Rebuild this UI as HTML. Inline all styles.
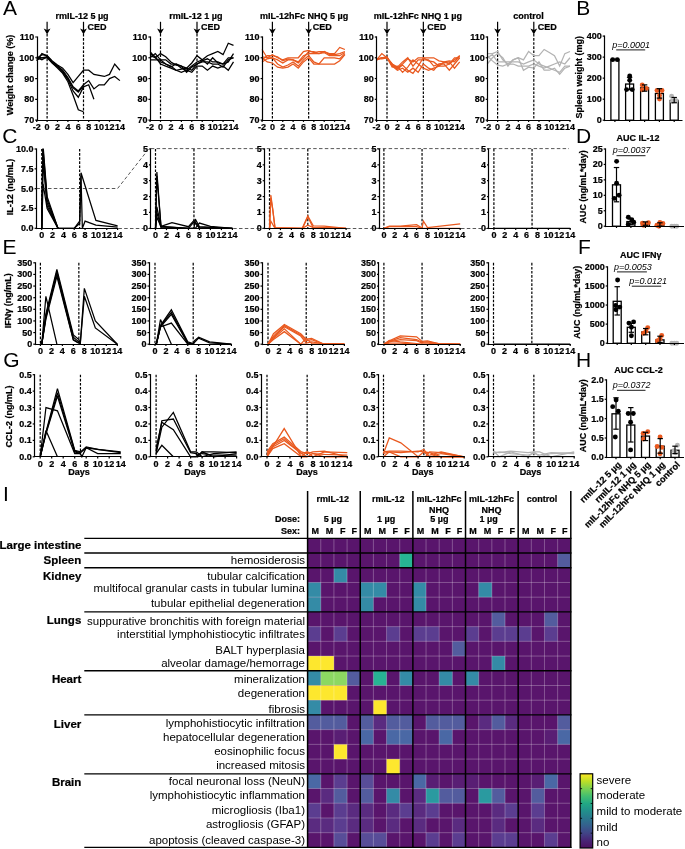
<!DOCTYPE html>
<html lang="en"><head><meta charset="utf-8"><title>Figure</title>
<style>
html,body{margin:0;padding:0;background:#fff}
body{width:685px;height:849px;overflow:hidden}
svg{display:block;will-change:transform;font-family:"Liberation Sans",Arial,Helvetica,sans-serif}
svg text{fill:#000}
svg text[font-weight="bold"]{stroke:#000;stroke-width:0.22px}
</style></head><body>
<svg width="685" height="849" viewBox="0 0 685 849">
<rect width="685" height="849" fill="#fff"/>
<text x="2.9" y="14.6" font-size="21" font-weight="normal" text-anchor="start">A</text>
<text x="576.3" y="14.6" font-size="21" font-weight="normal" text-anchor="start">B</text>
<text x="2.2" y="143.4" font-size="21" font-weight="normal" text-anchor="start">C</text>
<text x="575.9" y="142.6" font-size="21" font-weight="normal" text-anchor="start">D</text>
<text x="2.4" y="254.1" font-size="21" font-weight="normal" text-anchor="start">E</text>
<text x="578" y="253.9" font-size="21" font-weight="normal" text-anchor="start">F</text>
<text x="3.3" y="366.7" font-size="21" font-weight="normal" text-anchor="start">G</text>
<text x="575.9" y="366.8" font-size="21" font-weight="normal" text-anchor="start">H</text>
<text x="2.9" y="501" font-size="21" font-weight="normal" text-anchor="start">I</text>
<line x1="47.1" y1="34" x2="47.1" y2="120.1" stroke="#000" stroke-width="1.2" stroke-dasharray="2.6 1.5" stroke-linecap="butt"/>
<line x1="83.5" y1="34" x2="83.5" y2="120.1" stroke="#000" stroke-width="1.2" stroke-dasharray="2.6 1.5" stroke-linecap="butt"/>
<polyline fill="none" stroke="#000" stroke-width="1.25" stroke-linejoin="miter" stroke-miterlimit="3" points="36.7,58.81 41.9,54.66 47.1,55.7 52.3,60.89 57.5,65.05 62.7,68.16 67.9,74.39 73.1,82.7 78.3,76.47 83.5,70.24 88.7,70.24 93.9,74.39 99.1,75.43 104.3,76.47 109.5,74.39 114.7,64.01 119.9,70.24"/>
<polyline fill="none" stroke="#000" stroke-width="1.25" stroke-linejoin="miter" stroke-miterlimit="3" points="36.7,57.77 41.9,59.85 47.1,56.74 52.3,61.93 57.5,66.08 62.7,70.24 67.9,77.51 73.1,86.86 78.3,91.02 83.5,84.78 88.7,80.63 93.9,88.94 99.1,84.78 104.3,84.78 109.5,78.55 114.7,76.47 119.9,80.63"/>
<polyline fill="none" stroke="#000" stroke-width="1.25" stroke-linejoin="miter" stroke-miterlimit="3" points="36.7,59.85 41.9,57.77 47.1,57.77 52.3,62.97 57.5,67.12 62.7,72.32 67.9,79.59 73.1,91.02 78.3,97.25 83.5,86.86 88.7,84.78 93.9,99.32"/>
<polyline fill="none" stroke="#000" stroke-width="1.25" stroke-linejoin="miter" stroke-miterlimit="3" points="36.7,56.74 41.9,57.77 47.1,56.74 52.3,62.97 57.5,68.16 62.7,73.36 67.9,81.67 73.1,95.17 78.3,109.71 83.5,111.79"/>
<polyline fill="none" stroke="#000" stroke-width="1.25" stroke-linejoin="miter" stroke-miterlimit="3" points="36.7,60.89 41.9,53.62 47.1,55.7 52.3,61.93 57.5,66.08 62.7,71.28 67.9,78.55 73.1,87.9 78.3,92.05 83.5,85.82"/>
<line x1="37.5" y1="36.4" x2="37.5" y2="121.1" stroke="#000" stroke-width="1.2" stroke-linecap="butt"/>
<line x1="36.9" y1="120.5" x2="120.5" y2="120.5" stroke="#000" stroke-width="1.2" stroke-linecap="butt"/>
<line x1="35.2" y1="120.1" x2="37" y2="120.1" stroke="#000" stroke-width="1.2" stroke-linecap="butt"/>
<text x="34.2" y="123.1" font-size="9" font-weight="bold" text-anchor="end">70</text>
<line x1="35.2" y1="99.32" x2="37" y2="99.32" stroke="#000" stroke-width="1.2" stroke-linecap="butt"/>
<text x="34.2" y="102.32" font-size="9" font-weight="bold" text-anchor="end">80</text>
<line x1="35.2" y1="78.55" x2="37" y2="78.55" stroke="#000" stroke-width="1.2" stroke-linecap="butt"/>
<text x="34.2" y="81.55" font-size="9" font-weight="bold" text-anchor="end">90</text>
<line x1="35.2" y1="57.77" x2="37" y2="57.77" stroke="#000" stroke-width="1.2" stroke-linecap="butt"/>
<text x="34.2" y="60.77" font-size="9" font-weight="bold" text-anchor="end">100</text>
<line x1="35.2" y1="37" x2="37" y2="37" stroke="#000" stroke-width="1.2" stroke-linecap="butt"/>
<text x="34.2" y="40" font-size="9" font-weight="bold" text-anchor="end">110</text>
<line x1="36.7" y1="120.1" x2="36.7" y2="121.9" stroke="#000" stroke-width="1.2" stroke-linecap="butt"/>
<text x="36.7" y="129.5" font-size="9" font-weight="bold" text-anchor="middle">-2</text>
<line x1="47.1" y1="120.1" x2="47.1" y2="121.9" stroke="#000" stroke-width="1.2" stroke-linecap="butt"/>
<text x="47.1" y="129.5" font-size="9" font-weight="bold" text-anchor="middle">0</text>
<line x1="57.5" y1="120.1" x2="57.5" y2="121.9" stroke="#000" stroke-width="1.2" stroke-linecap="butt"/>
<text x="57.5" y="129.5" font-size="9" font-weight="bold" text-anchor="middle">2</text>
<line x1="67.9" y1="120.1" x2="67.9" y2="121.9" stroke="#000" stroke-width="1.2" stroke-linecap="butt"/>
<text x="67.9" y="129.5" font-size="9" font-weight="bold" text-anchor="middle">4</text>
<line x1="78.3" y1="120.1" x2="78.3" y2="121.9" stroke="#000" stroke-width="1.2" stroke-linecap="butt"/>
<text x="78.3" y="129.5" font-size="9" font-weight="bold" text-anchor="middle">6</text>
<line x1="88.7" y1="120.1" x2="88.7" y2="121.9" stroke="#000" stroke-width="1.2" stroke-linecap="butt"/>
<text x="88.7" y="129.5" font-size="9" font-weight="bold" text-anchor="middle">8</text>
<line x1="99.1" y1="120.1" x2="99.1" y2="121.9" stroke="#000" stroke-width="1.2" stroke-linecap="butt"/>
<text x="99.1" y="129.5" font-size="9" font-weight="bold" text-anchor="middle">10</text>
<line x1="109.5" y1="120.1" x2="109.5" y2="121.9" stroke="#000" stroke-width="1.2" stroke-linecap="butt"/>
<text x="109.5" y="129.5" font-size="9" font-weight="bold" text-anchor="middle">12</text>
<line x1="119.9" y1="120.1" x2="119.9" y2="121.9" stroke="#000" stroke-width="1.2" stroke-linecap="butt"/>
<text x="119.9" y="129.5" font-size="9" font-weight="bold" text-anchor="middle">14</text>
<text x="82" y="18.6" font-size="9" font-weight="bold" text-anchor="middle">rmIL-12 5 µg</text>
<line x1="47.1" y1="21.8" x2="47.1" y2="32.4" stroke="#000" stroke-width="1.2" stroke-linecap="butt"/>
<path d="M47.1 34.4 L43.7 28.6 L47.1 30.1 L50.5 28.6 Z" fill="#000"/>
<line x1="83.5" y1="21.8" x2="83.5" y2="32.4" stroke="#000" stroke-width="1.2" stroke-linecap="butt"/>
<path d="M83.5 34.4 L80.1 28.6 L83.5 30.1 L86.9 28.6 Z" fill="#000"/>
<text x="87.5" y="29.8" font-size="9" font-weight="bold" text-anchor="start">CED</text>
<line x1="160.5" y1="34" x2="160.5" y2="120.1" stroke="#000" stroke-width="1.2" stroke-dasharray="2.6 1.5" stroke-linecap="butt"/>
<line x1="197" y1="34" x2="197" y2="120.1" stroke="#000" stroke-width="1.2" stroke-dasharray="2.6 1.5" stroke-linecap="butt"/>
<polyline fill="none" stroke="#000" stroke-width="1.25" stroke-linejoin="miter" stroke-miterlimit="3" points="150.07,51.54 155.29,57.77 160.5,53.62 165.71,56.74 170.93,61.93 176.14,65.05 181.36,66.08 186.57,68.16 191.79,62.97 197,55.7 202.21,59.85 207.43,55.7 212.64,53.62 217.86,51.54 223.07,54.66 228.29,43.23 233.5,45.31"/>
<polyline fill="none" stroke="#000" stroke-width="1.25" stroke-linejoin="miter" stroke-miterlimit="3" points="150.07,57.77 155.29,53.62 160.5,59.85 165.71,59.85 170.93,64.01 176.14,64.01 181.36,68.16 186.57,70.24 191.79,66.08 197,61.93 202.21,59.85 207.43,64.01 212.64,57.77 217.86,62.97 223.07,64.01 228.29,61.93 233.5,53.62"/>
<polyline fill="none" stroke="#000" stroke-width="1.25" stroke-linejoin="miter" stroke-miterlimit="3" points="150.07,59.85 155.29,59.85 160.5,59.85 165.71,64.01 170.93,66.08 176.14,70.24 181.36,72.32 186.57,70.24 191.79,72.32 197,66.08 202.21,66.08 207.43,70.24 212.64,66.08 217.86,68.16 223.07,66.08 228.29,70.24 233.5,61.93"/>
<polyline fill="none" stroke="#000" stroke-width="1.25" stroke-linejoin="miter" stroke-miterlimit="3" points="150.07,55.7 155.29,57.77 160.5,61.93 165.71,64.01 170.93,67.12 176.14,64.01 181.36,66.08 186.57,72.32 191.79,67.12 197,64.01 202.21,60.89 207.43,58.81 212.64,61.93 217.86,61.93 223.07,64.01 228.29,57.77 233.5,57.77"/>
<polyline fill="none" stroke="#000" stroke-width="1.25" stroke-linejoin="miter" stroke-miterlimit="3" points="150.07,53.62 155.29,56.74 160.5,64.01 165.71,66.08 170.93,68.16 176.14,70.24 181.36,69.2 186.57,68.16 191.79,70.24 197,64.01 202.21,61.93 207.43,61.93 212.64,64.01 217.86,64.01 223.07,67.12 228.29,59.85 233.5,57.77"/>
<line x1="150.5" y1="36.4" x2="150.5" y2="121.1" stroke="#000" stroke-width="1.2" stroke-linecap="butt"/>
<line x1="149.9" y1="120.5" x2="234.1" y2="120.5" stroke="#000" stroke-width="1.2" stroke-linecap="butt"/>
<line x1="148.4" y1="120.1" x2="150.2" y2="120.1" stroke="#000" stroke-width="1.2" stroke-linecap="butt"/>
<text x="147.4" y="123.1" font-size="9" font-weight="bold" text-anchor="end">70</text>
<line x1="148.4" y1="99.32" x2="150.2" y2="99.32" stroke="#000" stroke-width="1.2" stroke-linecap="butt"/>
<text x="147.4" y="102.32" font-size="9" font-weight="bold" text-anchor="end">80</text>
<line x1="148.4" y1="78.55" x2="150.2" y2="78.55" stroke="#000" stroke-width="1.2" stroke-linecap="butt"/>
<text x="147.4" y="81.55" font-size="9" font-weight="bold" text-anchor="end">90</text>
<line x1="148.4" y1="57.77" x2="150.2" y2="57.77" stroke="#000" stroke-width="1.2" stroke-linecap="butt"/>
<text x="147.4" y="60.77" font-size="9" font-weight="bold" text-anchor="end">100</text>
<line x1="148.4" y1="37" x2="150.2" y2="37" stroke="#000" stroke-width="1.2" stroke-linecap="butt"/>
<text x="147.4" y="40" font-size="9" font-weight="bold" text-anchor="end">110</text>
<line x1="150.07" y1="120.1" x2="150.07" y2="121.9" stroke="#000" stroke-width="1.2" stroke-linecap="butt"/>
<text x="150.07" y="129.5" font-size="9" font-weight="bold" text-anchor="middle">-2</text>
<line x1="160.5" y1="120.1" x2="160.5" y2="121.9" stroke="#000" stroke-width="1.2" stroke-linecap="butt"/>
<text x="160.5" y="129.5" font-size="9" font-weight="bold" text-anchor="middle">0</text>
<line x1="170.93" y1="120.1" x2="170.93" y2="121.9" stroke="#000" stroke-width="1.2" stroke-linecap="butt"/>
<text x="170.93" y="129.5" font-size="9" font-weight="bold" text-anchor="middle">2</text>
<line x1="181.36" y1="120.1" x2="181.36" y2="121.9" stroke="#000" stroke-width="1.2" stroke-linecap="butt"/>
<text x="181.36" y="129.5" font-size="9" font-weight="bold" text-anchor="middle">4</text>
<line x1="191.79" y1="120.1" x2="191.79" y2="121.9" stroke="#000" stroke-width="1.2" stroke-linecap="butt"/>
<text x="191.79" y="129.5" font-size="9" font-weight="bold" text-anchor="middle">6</text>
<line x1="202.21" y1="120.1" x2="202.21" y2="121.9" stroke="#000" stroke-width="1.2" stroke-linecap="butt"/>
<text x="202.21" y="129.5" font-size="9" font-weight="bold" text-anchor="middle">8</text>
<line x1="212.64" y1="120.1" x2="212.64" y2="121.9" stroke="#000" stroke-width="1.2" stroke-linecap="butt"/>
<text x="212.64" y="129.5" font-size="9" font-weight="bold" text-anchor="middle">10</text>
<line x1="223.07" y1="120.1" x2="223.07" y2="121.9" stroke="#000" stroke-width="1.2" stroke-linecap="butt"/>
<text x="223.07" y="129.5" font-size="9" font-weight="bold" text-anchor="middle">12</text>
<line x1="233.5" y1="120.1" x2="233.5" y2="121.9" stroke="#000" stroke-width="1.2" stroke-linecap="butt"/>
<text x="233.5" y="129.5" font-size="9" font-weight="bold" text-anchor="middle">14</text>
<text x="195.9" y="18.6" font-size="9" font-weight="bold" text-anchor="middle">rmIL-12 1 µg</text>
<line x1="160.5" y1="21.8" x2="160.5" y2="32.4" stroke="#000" stroke-width="1.2" stroke-linecap="butt"/>
<path d="M160.5 34.4 L157.1 28.6 L160.5 30.1 L163.9 28.6 Z" fill="#000"/>
<line x1="197" y1="21.8" x2="197" y2="32.4" stroke="#000" stroke-width="1.2" stroke-linecap="butt"/>
<path d="M197 34.4 L193.6 28.6 L197 30.1 L200.4 28.6 Z" fill="#000"/>
<text x="201" y="29.8" font-size="9" font-weight="bold" text-anchor="start">CED</text>
<line x1="272.4" y1="34" x2="272.4" y2="120.1" stroke="#000" stroke-width="1.2" stroke-dasharray="2.6 1.5" stroke-linecap="butt"/>
<line x1="308.65" y1="34" x2="308.65" y2="120.1" stroke="#000" stroke-width="1.2" stroke-dasharray="2.6 1.5" stroke-linecap="butt"/>
<polyline fill="none" stroke="#e9591f" stroke-width="1.25" stroke-linejoin="miter" stroke-miterlimit="3" points="262.04,49.47 267.22,57.77 272.4,54.66 277.58,57.77 282.76,59.85 287.94,57.77 293.11,57.77 298.29,57.77 303.47,51.54 308.65,50.5 313.83,52.58 319.01,51.54 324.19,51.54 329.36,53.62 334.54,53.62 339.72,47.39 344.9,49.47"/>
<polyline fill="none" stroke="#e9591f" stroke-width="1.25" stroke-linejoin="miter" stroke-miterlimit="3" points="262.04,59.85 267.22,55.7 272.4,55.7 277.58,56.74 282.76,60.89 287.94,58.81 293.11,59.85 298.29,61.93 303.47,55.7 308.65,53.62 313.83,53.62 319.01,53.62 324.19,51.54 329.36,54.66 334.54,54.66 339.72,53.62 344.9,51.54"/>
<polyline fill="none" stroke="#e9591f" stroke-width="1.25" stroke-linejoin="miter" stroke-miterlimit="3" points="262.04,61.93 267.22,58.81 272.4,57.77 277.58,64.01 282.76,67.12 287.94,65.05 293.11,61.93 298.29,66.08 303.47,59.85 308.65,55.7 313.83,61.93 319.01,64.01 324.19,57.77 329.36,57.77 334.54,57.77 339.72,58.81 344.9,53.62"/>
<polyline fill="none" stroke="#e9591f" stroke-width="1.25" stroke-linejoin="miter" stroke-miterlimit="3" points="262.04,57.77 267.22,61.93 272.4,62.97 277.58,67.12 282.76,68.16 287.94,67.12 293.11,64.01 298.29,68.16 303.47,61.93 308.65,57.77 313.83,64.01 319.01,64.01 324.19,64.01 329.36,64.01 334.54,64.01 339.72,60.89 344.9,54.66"/>
<polyline fill="none" stroke="#e9591f" stroke-width="1.25" stroke-linejoin="miter" stroke-miterlimit="3" points="262.04,56.74 267.22,57.77 272.4,57.77 277.58,59.85 282.76,62.97 287.94,59.85 293.11,59.85 298.29,62.97 303.47,57.77 308.65,51.54 313.83,51.54 319.01,53.62 324.19,52.58 329.36,55.7 334.54,55.7 339.72,55.7 344.9,52.58"/>
<line x1="262.5" y1="36.4" x2="262.5" y2="121.1" stroke="#000" stroke-width="1.2" stroke-linecap="butt"/>
<line x1="261.9" y1="120.5" x2="345.5" y2="120.5" stroke="#000" stroke-width="1.2" stroke-linecap="butt"/>
<line x1="260.6" y1="120.1" x2="262.4" y2="120.1" stroke="#000" stroke-width="1.2" stroke-linecap="butt"/>
<text x="259.6" y="123.1" font-size="9" font-weight="bold" text-anchor="end">70</text>
<line x1="260.6" y1="99.32" x2="262.4" y2="99.32" stroke="#000" stroke-width="1.2" stroke-linecap="butt"/>
<text x="259.6" y="102.32" font-size="9" font-weight="bold" text-anchor="end">80</text>
<line x1="260.6" y1="78.55" x2="262.4" y2="78.55" stroke="#000" stroke-width="1.2" stroke-linecap="butt"/>
<text x="259.6" y="81.55" font-size="9" font-weight="bold" text-anchor="end">90</text>
<line x1="260.6" y1="57.77" x2="262.4" y2="57.77" stroke="#000" stroke-width="1.2" stroke-linecap="butt"/>
<text x="259.6" y="60.77" font-size="9" font-weight="bold" text-anchor="end">100</text>
<line x1="260.6" y1="37" x2="262.4" y2="37" stroke="#000" stroke-width="1.2" stroke-linecap="butt"/>
<text x="259.6" y="40" font-size="9" font-weight="bold" text-anchor="end">110</text>
<line x1="262.04" y1="120.1" x2="262.04" y2="121.9" stroke="#000" stroke-width="1.2" stroke-linecap="butt"/>
<text x="262.04" y="129.5" font-size="9" font-weight="bold" text-anchor="middle">-2</text>
<line x1="272.4" y1="120.1" x2="272.4" y2="121.9" stroke="#000" stroke-width="1.2" stroke-linecap="butt"/>
<text x="272.4" y="129.5" font-size="9" font-weight="bold" text-anchor="middle">0</text>
<line x1="282.76" y1="120.1" x2="282.76" y2="121.9" stroke="#000" stroke-width="1.2" stroke-linecap="butt"/>
<text x="282.76" y="129.5" font-size="9" font-weight="bold" text-anchor="middle">2</text>
<line x1="293.11" y1="120.1" x2="293.11" y2="121.9" stroke="#000" stroke-width="1.2" stroke-linecap="butt"/>
<text x="293.11" y="129.5" font-size="9" font-weight="bold" text-anchor="middle">4</text>
<line x1="303.47" y1="120.1" x2="303.47" y2="121.9" stroke="#000" stroke-width="1.2" stroke-linecap="butt"/>
<text x="303.47" y="129.5" font-size="9" font-weight="bold" text-anchor="middle">6</text>
<line x1="313.83" y1="120.1" x2="313.83" y2="121.9" stroke="#000" stroke-width="1.2" stroke-linecap="butt"/>
<text x="313.83" y="129.5" font-size="9" font-weight="bold" text-anchor="middle">8</text>
<line x1="324.19" y1="120.1" x2="324.19" y2="121.9" stroke="#000" stroke-width="1.2" stroke-linecap="butt"/>
<text x="324.19" y="129.5" font-size="9" font-weight="bold" text-anchor="middle">10</text>
<line x1="334.54" y1="120.1" x2="334.54" y2="121.9" stroke="#000" stroke-width="1.2" stroke-linecap="butt"/>
<text x="334.54" y="129.5" font-size="9" font-weight="bold" text-anchor="middle">12</text>
<line x1="344.9" y1="120.1" x2="344.9" y2="121.9" stroke="#000" stroke-width="1.2" stroke-linecap="butt"/>
<text x="344.9" y="129.5" font-size="9" font-weight="bold" text-anchor="middle">14</text>
<text x="304.1" y="18.6" font-size="9" font-weight="bold" text-anchor="middle">mIL-12hFc NHQ 5 µg</text>
<line x1="272.4" y1="21.8" x2="272.4" y2="32.4" stroke="#000" stroke-width="1.2" stroke-linecap="butt"/>
<path d="M272.4 34.4 L269 28.6 L272.4 30.1 L275.8 28.6 Z" fill="#000"/>
<line x1="308.65" y1="21.8" x2="308.65" y2="32.4" stroke="#000" stroke-width="1.2" stroke-linecap="butt"/>
<path d="M308.65 34.4 L305.25 28.6 L308.65 30.1 L312.05 28.6 Z" fill="#000"/>
<text x="312.65" y="29.8" font-size="9" font-weight="bold" text-anchor="start">CED</text>
<line x1="387" y1="34" x2="387" y2="120.1" stroke="#000" stroke-width="1.2" stroke-dasharray="2.6 1.5" stroke-linecap="butt"/>
<line x1="423.35" y1="34" x2="423.35" y2="120.1" stroke="#000" stroke-width="1.2" stroke-dasharray="2.6 1.5" stroke-linecap="butt"/>
<polyline fill="none" stroke="#e9591f" stroke-width="1.25" stroke-linejoin="miter" stroke-miterlimit="3" points="376.61,59.85 381.81,53.62 387,57.77 392.19,64.01 397.39,68.16 402.58,64.01 407.77,58.81 412.96,61.93 418.16,57.77 423.35,57.77 428.54,57.77 433.74,57.77 438.93,60.89 444.12,61.93 449.31,60.89 454.51,61.93 459.7,55.7"/>
<polyline fill="none" stroke="#e9591f" stroke-width="1.25" stroke-linejoin="miter" stroke-miterlimit="3" points="376.61,58.81 381.81,57.77 387,56.74 392.19,66.08 397.39,70.24 402.58,68.16 407.77,72.32 412.96,68.16 418.16,72.32 423.35,64.01 428.54,68.16 433.74,70.24 438.93,64.01 444.12,64.01 449.31,70.24 454.51,64.01 459.7,57.77"/>
<polyline fill="none" stroke="#e9591f" stroke-width="1.25" stroke-linejoin="miter" stroke-miterlimit="3" points="376.61,59.85 381.81,57.77 387,57.77 392.19,64.01 397.39,67.12 402.58,61.93 407.77,57.77 412.96,66.08 418.16,59.85 423.35,59.85 428.54,59.85 433.74,66.08 438.93,64.01 444.12,62.97 449.31,61.93 454.51,68.16 459.7,61.93"/>
<polyline fill="none" stroke="#e9591f" stroke-width="1.25" stroke-linejoin="miter" stroke-miterlimit="3" points="376.61,58.81 381.81,58.81 387,57.77 392.19,65.05 397.39,69.2 402.58,65.05 407.77,70.24 412.96,73.36 418.16,66.08 423.35,57.77 428.54,60.89 433.74,61.93 438.93,66.08 444.12,61.93 449.31,64.01 454.51,57.77 459.7,57.77"/>
<polyline fill="none" stroke="#e9591f" stroke-width="1.25" stroke-linejoin="miter" stroke-miterlimit="3" points="376.61,59.85 381.81,57.77 387,57.77 392.19,67.12 397.39,66.08 402.58,72.32 407.77,67.12 412.96,59.85 418.16,64.01 423.35,68.16 428.54,70.24 433.74,68.16 438.93,66.08 444.12,66.08 449.31,64.01 454.51,59.85 459.7,55.7"/>
<line x1="376.5" y1="36.4" x2="376.5" y2="121.1" stroke="#000" stroke-width="1.2" stroke-linecap="butt"/>
<line x1="375.9" y1="120.5" x2="460.3" y2="120.5" stroke="#000" stroke-width="1.2" stroke-linecap="butt"/>
<line x1="374.8" y1="120.1" x2="376.6" y2="120.1" stroke="#000" stroke-width="1.2" stroke-linecap="butt"/>
<text x="373.8" y="123.1" font-size="9" font-weight="bold" text-anchor="end">70</text>
<line x1="374.8" y1="99.32" x2="376.6" y2="99.32" stroke="#000" stroke-width="1.2" stroke-linecap="butt"/>
<text x="373.8" y="102.32" font-size="9" font-weight="bold" text-anchor="end">80</text>
<line x1="374.8" y1="78.55" x2="376.6" y2="78.55" stroke="#000" stroke-width="1.2" stroke-linecap="butt"/>
<text x="373.8" y="81.55" font-size="9" font-weight="bold" text-anchor="end">90</text>
<line x1="374.8" y1="57.77" x2="376.6" y2="57.77" stroke="#000" stroke-width="1.2" stroke-linecap="butt"/>
<text x="373.8" y="60.77" font-size="9" font-weight="bold" text-anchor="end">100</text>
<line x1="374.8" y1="37" x2="376.6" y2="37" stroke="#000" stroke-width="1.2" stroke-linecap="butt"/>
<text x="373.8" y="40" font-size="9" font-weight="bold" text-anchor="end">110</text>
<line x1="376.61" y1="120.1" x2="376.61" y2="121.9" stroke="#000" stroke-width="1.2" stroke-linecap="butt"/>
<text x="376.61" y="129.5" font-size="9" font-weight="bold" text-anchor="middle">-2</text>
<line x1="387" y1="120.1" x2="387" y2="121.9" stroke="#000" stroke-width="1.2" stroke-linecap="butt"/>
<text x="387" y="129.5" font-size="9" font-weight="bold" text-anchor="middle">0</text>
<line x1="397.39" y1="120.1" x2="397.39" y2="121.9" stroke="#000" stroke-width="1.2" stroke-linecap="butt"/>
<text x="397.39" y="129.5" font-size="9" font-weight="bold" text-anchor="middle">2</text>
<line x1="407.77" y1="120.1" x2="407.77" y2="121.9" stroke="#000" stroke-width="1.2" stroke-linecap="butt"/>
<text x="407.77" y="129.5" font-size="9" font-weight="bold" text-anchor="middle">4</text>
<line x1="418.16" y1="120.1" x2="418.16" y2="121.9" stroke="#000" stroke-width="1.2" stroke-linecap="butt"/>
<text x="418.16" y="129.5" font-size="9" font-weight="bold" text-anchor="middle">6</text>
<line x1="428.54" y1="120.1" x2="428.54" y2="121.9" stroke="#000" stroke-width="1.2" stroke-linecap="butt"/>
<text x="428.54" y="129.5" font-size="9" font-weight="bold" text-anchor="middle">8</text>
<line x1="438.93" y1="120.1" x2="438.93" y2="121.9" stroke="#000" stroke-width="1.2" stroke-linecap="butt"/>
<text x="438.93" y="129.5" font-size="9" font-weight="bold" text-anchor="middle">10</text>
<line x1="449.31" y1="120.1" x2="449.31" y2="121.9" stroke="#000" stroke-width="1.2" stroke-linecap="butt"/>
<text x="449.31" y="129.5" font-size="9" font-weight="bold" text-anchor="middle">12</text>
<line x1="459.7" y1="120.1" x2="459.7" y2="121.9" stroke="#000" stroke-width="1.2" stroke-linecap="butt"/>
<text x="459.7" y="129.5" font-size="9" font-weight="bold" text-anchor="middle">14</text>
<text x="417.8" y="18.6" font-size="9" font-weight="bold" text-anchor="middle">mIL-12hFc NHQ 1 µg</text>
<line x1="387" y1="21.8" x2="387" y2="32.4" stroke="#000" stroke-width="1.2" stroke-linecap="butt"/>
<path d="M387 34.4 L383.6 28.6 L387 30.1 L390.4 28.6 Z" fill="#000"/>
<line x1="423.35" y1="21.8" x2="423.35" y2="32.4" stroke="#000" stroke-width="1.2" stroke-linecap="butt"/>
<path d="M423.35 34.4 L419.95 28.6 L423.35 30.1 L426.75 28.6 Z" fill="#000"/>
<text x="427.35" y="29.8" font-size="9" font-weight="bold" text-anchor="start">CED</text>
<line x1="497.6" y1="34" x2="497.6" y2="120.1" stroke="#000" stroke-width="1.2" stroke-dasharray="2.6 1.5" stroke-linecap="butt"/>
<line x1="533.8" y1="34" x2="533.8" y2="120.1" stroke="#000" stroke-width="1.2" stroke-dasharray="2.6 1.5" stroke-linecap="butt"/>
<polyline fill="none" stroke="#b3b3b3" stroke-width="1.25" stroke-linejoin="miter" stroke-miterlimit="3" points="487.26,53.62 492.43,53.62 497.6,51.54 502.77,59.85 507.94,64.01 513.11,59.85 518.29,57.77 523.46,59.85 528.63,51.54 533.8,55.7 538.97,55.7 544.14,49.47 549.31,52.58 554.49,55.7 559.66,66.08 564.83,53.62 570,51.54"/>
<polyline fill="none" stroke="#b3b3b3" stroke-width="1.25" stroke-linejoin="miter" stroke-miterlimit="3" points="487.26,57.77 492.43,54.66 497.6,61.93 502.77,61.93 507.94,61.93 513.11,61.93 518.29,61.93 523.46,64.01 528.63,61.93 533.8,59.85 538.97,64.01 544.14,66.08 549.31,68.16 554.49,70.24 559.66,72.32 564.83,66.08 570,66.08"/>
<polyline fill="none" stroke="#b3b3b3" stroke-width="1.25" stroke-linejoin="miter" stroke-miterlimit="3" points="487.26,64.01 492.43,57.77 497.6,53.62 502.77,57.77 507.94,66.08 513.11,59.85 518.29,57.77 523.46,70.24 528.63,67.12 533.8,68.16 538.97,61.93 544.14,70.24 549.31,70.24 554.49,68.16 559.66,74.39 564.83,68.16 570,66.08"/>
<polyline fill="none" stroke="#b3b3b3" stroke-width="1.25" stroke-linejoin="miter" stroke-miterlimit="3" points="487.26,55.7 492.43,60.89 497.6,65.05 502.77,66.08 507.94,64.01 513.11,64.01 518.29,66.08 523.46,66.08 528.63,66.08 533.8,64.01 538.97,66.08 544.14,68.16 549.31,66.08 554.49,64.01 559.66,61.93 564.83,64.01 570,57.77"/>
<line x1="487.5" y1="36.4" x2="487.5" y2="121.1" stroke="#000" stroke-width="1.2" stroke-linecap="butt"/>
<line x1="486.9" y1="120.5" x2="570.6" y2="120.5" stroke="#000" stroke-width="1.2" stroke-linecap="butt"/>
<line x1="485.7" y1="120.1" x2="487.5" y2="120.1" stroke="#000" stroke-width="1.2" stroke-linecap="butt"/>
<text x="484.7" y="123.1" font-size="9" font-weight="bold" text-anchor="end">70</text>
<line x1="485.7" y1="99.32" x2="487.5" y2="99.32" stroke="#000" stroke-width="1.2" stroke-linecap="butt"/>
<text x="484.7" y="102.32" font-size="9" font-weight="bold" text-anchor="end">80</text>
<line x1="485.7" y1="78.55" x2="487.5" y2="78.55" stroke="#000" stroke-width="1.2" stroke-linecap="butt"/>
<text x="484.7" y="81.55" font-size="9" font-weight="bold" text-anchor="end">90</text>
<line x1="485.7" y1="57.77" x2="487.5" y2="57.77" stroke="#000" stroke-width="1.2" stroke-linecap="butt"/>
<text x="484.7" y="60.77" font-size="9" font-weight="bold" text-anchor="end">100</text>
<line x1="485.7" y1="37" x2="487.5" y2="37" stroke="#000" stroke-width="1.2" stroke-linecap="butt"/>
<text x="484.7" y="40" font-size="9" font-weight="bold" text-anchor="end">110</text>
<line x1="487.26" y1="120.1" x2="487.26" y2="121.9" stroke="#000" stroke-width="1.2" stroke-linecap="butt"/>
<text x="487.26" y="129.5" font-size="9" font-weight="bold" text-anchor="middle">-2</text>
<line x1="497.6" y1="120.1" x2="497.6" y2="121.9" stroke="#000" stroke-width="1.2" stroke-linecap="butt"/>
<text x="497.6" y="129.5" font-size="9" font-weight="bold" text-anchor="middle">0</text>
<line x1="507.94" y1="120.1" x2="507.94" y2="121.9" stroke="#000" stroke-width="1.2" stroke-linecap="butt"/>
<text x="507.94" y="129.5" font-size="9" font-weight="bold" text-anchor="middle">2</text>
<line x1="518.29" y1="120.1" x2="518.29" y2="121.9" stroke="#000" stroke-width="1.2" stroke-linecap="butt"/>
<text x="518.29" y="129.5" font-size="9" font-weight="bold" text-anchor="middle">4</text>
<line x1="528.63" y1="120.1" x2="528.63" y2="121.9" stroke="#000" stroke-width="1.2" stroke-linecap="butt"/>
<text x="528.63" y="129.5" font-size="9" font-weight="bold" text-anchor="middle">6</text>
<line x1="538.97" y1="120.1" x2="538.97" y2="121.9" stroke="#000" stroke-width="1.2" stroke-linecap="butt"/>
<text x="538.97" y="129.5" font-size="9" font-weight="bold" text-anchor="middle">8</text>
<line x1="549.31" y1="120.1" x2="549.31" y2="121.9" stroke="#000" stroke-width="1.2" stroke-linecap="butt"/>
<text x="549.31" y="129.5" font-size="9" font-weight="bold" text-anchor="middle">10</text>
<line x1="559.66" y1="120.1" x2="559.66" y2="121.9" stroke="#000" stroke-width="1.2" stroke-linecap="butt"/>
<text x="559.66" y="129.5" font-size="9" font-weight="bold" text-anchor="middle">12</text>
<line x1="570" y1="120.1" x2="570" y2="121.9" stroke="#000" stroke-width="1.2" stroke-linecap="butt"/>
<text x="570" y="129.5" font-size="9" font-weight="bold" text-anchor="middle">14</text>
<text x="528.4" y="18.6" font-size="9" font-weight="bold" text-anchor="middle">control</text>
<line x1="497.6" y1="21.8" x2="497.6" y2="32.4" stroke="#000" stroke-width="1.2" stroke-linecap="butt"/>
<path d="M497.6 34.4 L494.2 28.6 L497.6 30.1 L501 28.6 Z" fill="#000"/>
<line x1="533.8" y1="21.8" x2="533.8" y2="32.4" stroke="#000" stroke-width="1.2" stroke-linecap="butt"/>
<path d="M533.8 34.4 L530.4 28.6 L533.8 30.1 L537.2 28.6 Z" fill="#000"/>
<text x="537.8" y="29.8" font-size="9" font-weight="bold" text-anchor="start">CED</text>
<text transform="translate(13.2 75) rotate(-90)" font-size="9" font-weight="bold" text-anchor="middle">Weight change (%)</text>
<line x1="41.7" y1="149" x2="41.7" y2="228.3" stroke="#000" stroke-width="1.2" stroke-dasharray="2.6 1.5" stroke-linecap="butt"/>
<line x1="79.65" y1="149" x2="79.65" y2="228.3" stroke="#000" stroke-width="1.2" stroke-dasharray="2.6 1.5" stroke-linecap="butt"/>
<polyline fill="none" stroke="#000" stroke-width="1.25" stroke-linejoin="miter" stroke-miterlimit="3" points="41.7,228.3 42.78,149 43.33,149 47.12,196.58 57.96,228.3 74.23,228.3 79.65,221.16 81.01,172.79 95.91,220.37 117.6,225.92"/>
<polyline fill="none" stroke="#000" stroke-width="1.25" stroke-linejoin="miter" stroke-miterlimit="3" points="41.7,228.3 43.06,149 47.12,199.75 57.96,228.3 74.23,228.3 79.65,223.54 81.01,175.96 82.36,228.3 85.07,221.16 95.91,225.13 117.6,227.11"/>
<polyline fill="none" stroke="#000" stroke-width="1.25" stroke-linejoin="miter" stroke-miterlimit="3" points="41.7,228.3 43.06,153.76 47.12,202.92 57.96,228.3"/>
<polyline fill="none" stroke="#000" stroke-width="1.25" stroke-linejoin="miter" stroke-miterlimit="3" points="41.7,228.3 43.06,160.9 47.12,206.1 57.96,228.3"/>
<polyline fill="none" stroke="#000" stroke-width="1.25" stroke-linejoin="miter" stroke-miterlimit="3" points="41.7,228.3 43.06,183.89 47.12,208.48 57.96,228.3"/>
<line x1="36.5" y1="148.4" x2="36.5" y2="229.1" stroke="#000" stroke-width="1.2" stroke-linecap="butt"/>
<line x1="35.9" y1="228.5" x2="118.2" y2="228.5" stroke="#000" stroke-width="1.2" stroke-linecap="butt"/>
<line x1="34.6" y1="228.3" x2="36.4" y2="228.3" stroke="#000" stroke-width="1.2" stroke-linecap="butt"/>
<text x="33.6" y="231.3" font-size="9" font-weight="bold" text-anchor="end">0.0</text>
<line x1="34.6" y1="208.48" x2="36.4" y2="208.48" stroke="#000" stroke-width="1.2" stroke-linecap="butt"/>
<text x="33.6" y="211.48" font-size="9" font-weight="bold" text-anchor="end">2.5</text>
<line x1="34.6" y1="188.65" x2="36.4" y2="188.65" stroke="#000" stroke-width="1.2" stroke-linecap="butt"/>
<text x="33.6" y="191.65" font-size="9" font-weight="bold" text-anchor="end">5.0</text>
<line x1="34.6" y1="168.82" x2="36.4" y2="168.82" stroke="#000" stroke-width="1.2" stroke-linecap="butt"/>
<text x="33.6" y="171.82" font-size="9" font-weight="bold" text-anchor="end">7.5</text>
<line x1="34.6" y1="149" x2="36.4" y2="149" stroke="#000" stroke-width="1.2" stroke-linecap="butt"/>
<text x="33.6" y="152" font-size="9" font-weight="bold" text-anchor="end">10.0</text>
<line x1="41.7" y1="228.3" x2="41.7" y2="230.1" stroke="#000" stroke-width="1.2" stroke-linecap="butt"/>
<text x="41.7" y="238.1" font-size="9" font-weight="bold" text-anchor="middle">0</text>
<line x1="52.54" y1="228.3" x2="52.54" y2="230.1" stroke="#000" stroke-width="1.2" stroke-linecap="butt"/>
<text x="52.54" y="238.1" font-size="9" font-weight="bold" text-anchor="middle">2</text>
<line x1="63.39" y1="228.3" x2="63.39" y2="230.1" stroke="#000" stroke-width="1.2" stroke-linecap="butt"/>
<text x="63.39" y="238.1" font-size="9" font-weight="bold" text-anchor="middle">4</text>
<line x1="74.23" y1="228.3" x2="74.23" y2="230.1" stroke="#000" stroke-width="1.2" stroke-linecap="butt"/>
<text x="74.23" y="238.1" font-size="9" font-weight="bold" text-anchor="middle">6</text>
<line x1="85.07" y1="228.3" x2="85.07" y2="230.1" stroke="#000" stroke-width="1.2" stroke-linecap="butt"/>
<text x="85.07" y="238.1" font-size="9" font-weight="bold" text-anchor="middle">8</text>
<line x1="95.91" y1="228.3" x2="95.91" y2="230.1" stroke="#000" stroke-width="1.2" stroke-linecap="butt"/>
<text x="95.91" y="238.1" font-size="9" font-weight="bold" text-anchor="middle">10</text>
<line x1="106.76" y1="228.3" x2="106.76" y2="230.1" stroke="#000" stroke-width="1.2" stroke-linecap="butt"/>
<text x="106.76" y="238.1" font-size="9" font-weight="bold" text-anchor="middle">12</text>
<line x1="117.6" y1="228.3" x2="117.6" y2="230.1" stroke="#000" stroke-width="1.2" stroke-linecap="butt"/>
<text x="117.6" y="238.1" font-size="9" font-weight="bold" text-anchor="middle">14</text>
<line x1="155.5" y1="149" x2="155.5" y2="228.3" stroke="#000" stroke-width="1.2" stroke-dasharray="2.6 1.5" stroke-linecap="butt"/>
<line x1="193.95" y1="149" x2="193.95" y2="228.3" stroke="#000" stroke-width="1.2" stroke-dasharray="2.6 1.5" stroke-linecap="butt"/>
<polyline fill="none" stroke="#000" stroke-width="1.25" stroke-linejoin="miter" stroke-miterlimit="3" points="155.5,228.3 156.87,172 160.99,226.4 171.98,222.59 188.46,226.71 193.95,220.37 199.44,227.51 232.4,228.3"/>
<polyline fill="none" stroke="#000" stroke-width="1.25" stroke-linejoin="miter" stroke-miterlimit="3" points="155.5,228.3 156.87,175.96 160.99,226.71 188.46,228.3 193.95,228.3 195.32,219.1 199.44,226.71 232.4,228.3"/>
<polyline fill="none" stroke="#000" stroke-width="1.25" stroke-linejoin="miter" stroke-miterlimit="3" points="155.5,228.3 156.87,206.89 160.99,226.4 188.46,228.3 195.32,228.3 199.44,223.07 210.43,226.4 232.4,228.3"/>
<polyline fill="none" stroke="#000" stroke-width="1.25" stroke-linejoin="miter" stroke-miterlimit="3" points="155.5,228.3 156.87,212.44 160.99,227.51 188.46,228.3 193.95,221.96 199.44,228.3 210.43,227.51 232.4,228.3"/>
<polyline fill="none" stroke="#000" stroke-width="1.25" stroke-linejoin="miter" stroke-miterlimit="3" points="155.5,228.3 156.87,217.2 160.99,226.71"/>
<line x1="150.5" y1="148.4" x2="150.5" y2="229.1" stroke="#000" stroke-width="1.2" stroke-linecap="butt"/>
<line x1="149.9" y1="228.5" x2="233" y2="228.5" stroke="#000" stroke-width="1.2" stroke-linecap="butt"/>
<line x1="149" y1="228.3" x2="150.8" y2="228.3" stroke="#000" stroke-width="1.2" stroke-linecap="butt"/>
<text x="148" y="231.3" font-size="9" font-weight="bold" text-anchor="end">0</text>
<line x1="149" y1="212.44" x2="150.8" y2="212.44" stroke="#000" stroke-width="1.2" stroke-linecap="butt"/>
<text x="148" y="215.44" font-size="9" font-weight="bold" text-anchor="end">1</text>
<line x1="149" y1="196.58" x2="150.8" y2="196.58" stroke="#000" stroke-width="1.2" stroke-linecap="butt"/>
<text x="148" y="199.58" font-size="9" font-weight="bold" text-anchor="end">2</text>
<line x1="149" y1="180.72" x2="150.8" y2="180.72" stroke="#000" stroke-width="1.2" stroke-linecap="butt"/>
<text x="148" y="183.72" font-size="9" font-weight="bold" text-anchor="end">3</text>
<line x1="149" y1="164.86" x2="150.8" y2="164.86" stroke="#000" stroke-width="1.2" stroke-linecap="butt"/>
<text x="148" y="167.86" font-size="9" font-weight="bold" text-anchor="end">4</text>
<line x1="149" y1="149" x2="150.8" y2="149" stroke="#000" stroke-width="1.2" stroke-linecap="butt"/>
<text x="148" y="152" font-size="9" font-weight="bold" text-anchor="end">5</text>
<line x1="155.5" y1="228.3" x2="155.5" y2="230.1" stroke="#000" stroke-width="1.2" stroke-linecap="butt"/>
<text x="155.5" y="238.1" font-size="9" font-weight="bold" text-anchor="middle">0</text>
<line x1="166.49" y1="228.3" x2="166.49" y2="230.1" stroke="#000" stroke-width="1.2" stroke-linecap="butt"/>
<text x="166.49" y="238.1" font-size="9" font-weight="bold" text-anchor="middle">2</text>
<line x1="177.47" y1="228.3" x2="177.47" y2="230.1" stroke="#000" stroke-width="1.2" stroke-linecap="butt"/>
<text x="177.47" y="238.1" font-size="9" font-weight="bold" text-anchor="middle">4</text>
<line x1="188.46" y1="228.3" x2="188.46" y2="230.1" stroke="#000" stroke-width="1.2" stroke-linecap="butt"/>
<text x="188.46" y="238.1" font-size="9" font-weight="bold" text-anchor="middle">6</text>
<line x1="199.44" y1="228.3" x2="199.44" y2="230.1" stroke="#000" stroke-width="1.2" stroke-linecap="butt"/>
<text x="199.44" y="238.1" font-size="9" font-weight="bold" text-anchor="middle">8</text>
<line x1="210.43" y1="228.3" x2="210.43" y2="230.1" stroke="#000" stroke-width="1.2" stroke-linecap="butt"/>
<text x="210.43" y="238.1" font-size="9" font-weight="bold" text-anchor="middle">10</text>
<line x1="221.41" y1="228.3" x2="221.41" y2="230.1" stroke="#000" stroke-width="1.2" stroke-linecap="butt"/>
<text x="221.41" y="238.1" font-size="9" font-weight="bold" text-anchor="middle">12</text>
<line x1="232.4" y1="228.3" x2="232.4" y2="230.1" stroke="#000" stroke-width="1.2" stroke-linecap="butt"/>
<text x="232.4" y="238.1" font-size="9" font-weight="bold" text-anchor="middle">14</text>
<line x1="269.5" y1="149" x2="269.5" y2="228.3" stroke="#000" stroke-width="1.2" stroke-dasharray="2.6 1.5" stroke-linecap="butt"/>
<line x1="307.8" y1="149" x2="307.8" y2="228.3" stroke="#000" stroke-width="1.2" stroke-dasharray="2.6 1.5" stroke-linecap="butt"/>
<polyline fill="none" stroke="#e9591f" stroke-width="1.25" stroke-linejoin="miter" stroke-miterlimit="3" points="269.5,228.3 270.87,194.99 274.97,227.51 302.33,228.3 307.8,215.93 313.27,225.92 324.21,226.24 346.1,228.3"/>
<polyline fill="none" stroke="#e9591f" stroke-width="1.25" stroke-linejoin="miter" stroke-miterlimit="3" points="269.5,228.3 270.87,198.17 272.78,209.27 274.97,227.82 302.33,228.3 307.8,216.88 313.27,227.98 324.21,227.51 346.1,228.3"/>
<polyline fill="none" stroke="#e9591f" stroke-width="1.25" stroke-linejoin="miter" stroke-miterlimit="3" points="269.5,228.3 270.87,221.16 274.97,228.3 302.33,228.3 307.8,225.13 313.27,227.51 346.1,228.3"/>
<line x1="264.5" y1="148.4" x2="264.5" y2="229.1" stroke="#000" stroke-width="1.2" stroke-linecap="butt"/>
<line x1="263.9" y1="228.5" x2="346.7" y2="228.5" stroke="#000" stroke-width="1.2" stroke-linecap="butt"/>
<line x1="262.7" y1="228.3" x2="264.5" y2="228.3" stroke="#000" stroke-width="1.2" stroke-linecap="butt"/>
<text x="261.7" y="231.3" font-size="9" font-weight="bold" text-anchor="end">0</text>
<line x1="262.7" y1="212.44" x2="264.5" y2="212.44" stroke="#000" stroke-width="1.2" stroke-linecap="butt"/>
<text x="261.7" y="215.44" font-size="9" font-weight="bold" text-anchor="end">1</text>
<line x1="262.7" y1="196.58" x2="264.5" y2="196.58" stroke="#000" stroke-width="1.2" stroke-linecap="butt"/>
<text x="261.7" y="199.58" font-size="9" font-weight="bold" text-anchor="end">2</text>
<line x1="262.7" y1="180.72" x2="264.5" y2="180.72" stroke="#000" stroke-width="1.2" stroke-linecap="butt"/>
<text x="261.7" y="183.72" font-size="9" font-weight="bold" text-anchor="end">3</text>
<line x1="262.7" y1="164.86" x2="264.5" y2="164.86" stroke="#000" stroke-width="1.2" stroke-linecap="butt"/>
<text x="261.7" y="167.86" font-size="9" font-weight="bold" text-anchor="end">4</text>
<line x1="262.7" y1="149" x2="264.5" y2="149" stroke="#000" stroke-width="1.2" stroke-linecap="butt"/>
<text x="261.7" y="152" font-size="9" font-weight="bold" text-anchor="end">5</text>
<line x1="269.5" y1="228.3" x2="269.5" y2="230.1" stroke="#000" stroke-width="1.2" stroke-linecap="butt"/>
<text x="269.5" y="238.1" font-size="9" font-weight="bold" text-anchor="middle">0</text>
<line x1="280.44" y1="228.3" x2="280.44" y2="230.1" stroke="#000" stroke-width="1.2" stroke-linecap="butt"/>
<text x="280.44" y="238.1" font-size="9" font-weight="bold" text-anchor="middle">2</text>
<line x1="291.39" y1="228.3" x2="291.39" y2="230.1" stroke="#000" stroke-width="1.2" stroke-linecap="butt"/>
<text x="291.39" y="238.1" font-size="9" font-weight="bold" text-anchor="middle">4</text>
<line x1="302.33" y1="228.3" x2="302.33" y2="230.1" stroke="#000" stroke-width="1.2" stroke-linecap="butt"/>
<text x="302.33" y="238.1" font-size="9" font-weight="bold" text-anchor="middle">6</text>
<line x1="313.27" y1="228.3" x2="313.27" y2="230.1" stroke="#000" stroke-width="1.2" stroke-linecap="butt"/>
<text x="313.27" y="238.1" font-size="9" font-weight="bold" text-anchor="middle">8</text>
<line x1="324.21" y1="228.3" x2="324.21" y2="230.1" stroke="#000" stroke-width="1.2" stroke-linecap="butt"/>
<text x="324.21" y="238.1" font-size="9" font-weight="bold" text-anchor="middle">10</text>
<line x1="335.16" y1="228.3" x2="335.16" y2="230.1" stroke="#000" stroke-width="1.2" stroke-linecap="butt"/>
<text x="335.16" y="238.1" font-size="9" font-weight="bold" text-anchor="middle">12</text>
<line x1="346.1" y1="228.3" x2="346.1" y2="230.1" stroke="#000" stroke-width="1.2" stroke-linecap="butt"/>
<text x="346.1" y="238.1" font-size="9" font-weight="bold" text-anchor="middle">14</text>
<line x1="383.9" y1="149" x2="383.9" y2="228.3" stroke="#000" stroke-width="1.2" stroke-dasharray="2.6 1.5" stroke-linecap="butt"/>
<line x1="422.05" y1="149" x2="422.05" y2="228.3" stroke="#000" stroke-width="1.2" stroke-dasharray="2.6 1.5" stroke-linecap="butt"/>
<polyline fill="none" stroke="#e9591f" stroke-width="1.25" stroke-linejoin="miter" stroke-miterlimit="3" points="383.9,228.3 389.35,226.24 400.25,226.24 416.6,224.65 422.05,227.98 423.41,221.16 427.5,227.51 460.2,223.86"/>
<polyline fill="none" stroke="#e9591f" stroke-width="1.25" stroke-linejoin="miter" stroke-miterlimit="3" points="383.9,228.3 389.35,226.71 416.6,226.71 422.05,228.3 460.2,228.3"/>
<line x1="379.5" y1="148.4" x2="379.5" y2="229.1" stroke="#000" stroke-width="1.2" stroke-linecap="butt"/>
<line x1="378.9" y1="228.5" x2="460.8" y2="228.5" stroke="#000" stroke-width="1.2" stroke-linecap="butt"/>
<line x1="377.4" y1="228.3" x2="379.2" y2="228.3" stroke="#000" stroke-width="1.2" stroke-linecap="butt"/>
<text x="376.4" y="231.3" font-size="9" font-weight="bold" text-anchor="end">0</text>
<line x1="377.4" y1="212.44" x2="379.2" y2="212.44" stroke="#000" stroke-width="1.2" stroke-linecap="butt"/>
<text x="376.4" y="215.44" font-size="9" font-weight="bold" text-anchor="end">1</text>
<line x1="377.4" y1="196.58" x2="379.2" y2="196.58" stroke="#000" stroke-width="1.2" stroke-linecap="butt"/>
<text x="376.4" y="199.58" font-size="9" font-weight="bold" text-anchor="end">2</text>
<line x1="377.4" y1="180.72" x2="379.2" y2="180.72" stroke="#000" stroke-width="1.2" stroke-linecap="butt"/>
<text x="376.4" y="183.72" font-size="9" font-weight="bold" text-anchor="end">3</text>
<line x1="377.4" y1="164.86" x2="379.2" y2="164.86" stroke="#000" stroke-width="1.2" stroke-linecap="butt"/>
<text x="376.4" y="167.86" font-size="9" font-weight="bold" text-anchor="end">4</text>
<line x1="377.4" y1="149" x2="379.2" y2="149" stroke="#000" stroke-width="1.2" stroke-linecap="butt"/>
<text x="376.4" y="152" font-size="9" font-weight="bold" text-anchor="end">5</text>
<line x1="383.9" y1="228.3" x2="383.9" y2="230.1" stroke="#000" stroke-width="1.2" stroke-linecap="butt"/>
<text x="383.9" y="238.1" font-size="9" font-weight="bold" text-anchor="middle">0</text>
<line x1="394.8" y1="228.3" x2="394.8" y2="230.1" stroke="#000" stroke-width="1.2" stroke-linecap="butt"/>
<text x="394.8" y="238.1" font-size="9" font-weight="bold" text-anchor="middle">2</text>
<line x1="405.7" y1="228.3" x2="405.7" y2="230.1" stroke="#000" stroke-width="1.2" stroke-linecap="butt"/>
<text x="405.7" y="238.1" font-size="9" font-weight="bold" text-anchor="middle">4</text>
<line x1="416.6" y1="228.3" x2="416.6" y2="230.1" stroke="#000" stroke-width="1.2" stroke-linecap="butt"/>
<text x="416.6" y="238.1" font-size="9" font-weight="bold" text-anchor="middle">6</text>
<line x1="427.5" y1="228.3" x2="427.5" y2="230.1" stroke="#000" stroke-width="1.2" stroke-linecap="butt"/>
<text x="427.5" y="238.1" font-size="9" font-weight="bold" text-anchor="middle">8</text>
<line x1="438.4" y1="228.3" x2="438.4" y2="230.1" stroke="#000" stroke-width="1.2" stroke-linecap="butt"/>
<text x="438.4" y="238.1" font-size="9" font-weight="bold" text-anchor="middle">10</text>
<line x1="449.3" y1="228.3" x2="449.3" y2="230.1" stroke="#000" stroke-width="1.2" stroke-linecap="butt"/>
<text x="449.3" y="238.1" font-size="9" font-weight="bold" text-anchor="middle">12</text>
<line x1="460.2" y1="228.3" x2="460.2" y2="230.1" stroke="#000" stroke-width="1.2" stroke-linecap="butt"/>
<text x="460.2" y="238.1" font-size="9" font-weight="bold" text-anchor="middle">14</text>
<line x1="493.9" y1="149" x2="493.9" y2="228.3" stroke="#000" stroke-width="1.2" stroke-dasharray="2.6 1.5" stroke-linecap="butt"/>
<line x1="532.05" y1="149" x2="532.05" y2="228.3" stroke="#000" stroke-width="1.2" stroke-dasharray="2.6 1.5" stroke-linecap="butt"/>
<polyline fill="none" stroke="#000" stroke-width="1.25" stroke-linejoin="miter" stroke-miterlimit="3" points="493.9,228.3 570.2,228.3"/>
<line x1="488.5" y1="148.4" x2="488.5" y2="229.1" stroke="#000" stroke-width="1.2" stroke-linecap="butt"/>
<line x1="487.9" y1="228.5" x2="570.8" y2="228.5" stroke="#000" stroke-width="1.2" stroke-linecap="butt"/>
<line x1="487" y1="228.3" x2="488.8" y2="228.3" stroke="#000" stroke-width="1.2" stroke-linecap="butt"/>
<text x="486" y="231.3" font-size="9" font-weight="bold" text-anchor="end">0</text>
<line x1="487" y1="212.44" x2="488.8" y2="212.44" stroke="#000" stroke-width="1.2" stroke-linecap="butt"/>
<text x="486" y="215.44" font-size="9" font-weight="bold" text-anchor="end">1</text>
<line x1="487" y1="196.58" x2="488.8" y2="196.58" stroke="#000" stroke-width="1.2" stroke-linecap="butt"/>
<text x="486" y="199.58" font-size="9" font-weight="bold" text-anchor="end">2</text>
<line x1="487" y1="180.72" x2="488.8" y2="180.72" stroke="#000" stroke-width="1.2" stroke-linecap="butt"/>
<text x="486" y="183.72" font-size="9" font-weight="bold" text-anchor="end">3</text>
<line x1="487" y1="164.86" x2="488.8" y2="164.86" stroke="#000" stroke-width="1.2" stroke-linecap="butt"/>
<text x="486" y="167.86" font-size="9" font-weight="bold" text-anchor="end">4</text>
<line x1="487" y1="149" x2="488.8" y2="149" stroke="#000" stroke-width="1.2" stroke-linecap="butt"/>
<text x="486" y="152" font-size="9" font-weight="bold" text-anchor="end">5</text>
<line x1="493.9" y1="228.3" x2="493.9" y2="230.1" stroke="#000" stroke-width="1.2" stroke-linecap="butt"/>
<text x="493.9" y="238.1" font-size="9" font-weight="bold" text-anchor="middle">0</text>
<line x1="504.8" y1="228.3" x2="504.8" y2="230.1" stroke="#000" stroke-width="1.2" stroke-linecap="butt"/>
<text x="504.8" y="238.1" font-size="9" font-weight="bold" text-anchor="middle">2</text>
<line x1="515.7" y1="228.3" x2="515.7" y2="230.1" stroke="#000" stroke-width="1.2" stroke-linecap="butt"/>
<text x="515.7" y="238.1" font-size="9" font-weight="bold" text-anchor="middle">4</text>
<line x1="526.6" y1="228.3" x2="526.6" y2="230.1" stroke="#000" stroke-width="1.2" stroke-linecap="butt"/>
<text x="526.6" y="238.1" font-size="9" font-weight="bold" text-anchor="middle">6</text>
<line x1="537.5" y1="228.3" x2="537.5" y2="230.1" stroke="#000" stroke-width="1.2" stroke-linecap="butt"/>
<text x="537.5" y="238.1" font-size="9" font-weight="bold" text-anchor="middle">8</text>
<line x1="548.4" y1="228.3" x2="548.4" y2="230.1" stroke="#000" stroke-width="1.2" stroke-linecap="butt"/>
<text x="548.4" y="238.1" font-size="9" font-weight="bold" text-anchor="middle">10</text>
<line x1="559.3" y1="228.3" x2="559.3" y2="230.1" stroke="#000" stroke-width="1.2" stroke-linecap="butt"/>
<text x="559.3" y="238.1" font-size="9" font-weight="bold" text-anchor="middle">12</text>
<line x1="570.2" y1="228.3" x2="570.2" y2="230.1" stroke="#000" stroke-width="1.2" stroke-linecap="butt"/>
<text x="570.2" y="238.1" font-size="9" font-weight="bold" text-anchor="middle">14</text>
<line x1="36.4" y1="188.5" x2="117.6" y2="188.5" stroke="#222" stroke-width="0.75" stroke-dasharray="3.5 2.3" stroke-linecap="butt"/>
<line x1="117.6" y1="188.5" x2="149" y2="148.6" stroke="#222" stroke-width="0.75" stroke-dasharray="3.5 2.3" stroke-linecap="butt"/>
<line x1="150.8" y1="148.6" x2="569" y2="148.6" stroke="#222" stroke-width="0.75" stroke-dasharray="3.5 2.3" stroke-linecap="butt"/>
<line x1="118.4" y1="228.5" x2="150" y2="228.5" stroke="#222" stroke-width="0.75" stroke-dasharray="3.5 2.3" stroke-linecap="butt"/>
<line x1="233.2" y1="228.5" x2="263.8" y2="228.5" stroke="#222" stroke-width="0.75" stroke-dasharray="3.5 2.3" stroke-linecap="butt"/>
<line x1="347" y1="228.5" x2="378.5" y2="228.5" stroke="#222" stroke-width="0.75" stroke-dasharray="3.5 2.3" stroke-linecap="butt"/>
<line x1="461" y1="228.5" x2="488" y2="228.5" stroke="#222" stroke-width="0.75" stroke-dasharray="3.5 2.3" stroke-linecap="butt"/>
<text transform="translate(12.6 187) rotate(-90)" font-size="9" font-weight="bold" text-anchor="middle">IL-12 (ng/mL)</text>
<line x1="40.4" y1="262.8" x2="40.4" y2="344.2" stroke="#000" stroke-width="1.2" stroke-dasharray="2.6 1.5" stroke-linecap="butt"/>
<line x1="78.85" y1="262.8" x2="78.85" y2="344.2" stroke="#000" stroke-width="1.2" stroke-dasharray="2.6 1.5" stroke-linecap="butt"/>
<polyline fill="none" stroke="#000" stroke-width="1.25" stroke-linejoin="miter" stroke-miterlimit="3" points="40.4,344.2 41.77,344.2 45.89,313.97 56.88,269.31 73.36,334.9 78.85,339.55 80.22,344.2 84.34,288.38 95.33,320.94 117.3,344.2"/>
<polyline fill="none" stroke="#000" stroke-width="1.25" stroke-linejoin="miter" stroke-miterlimit="3" points="40.4,344.2 41.77,344.2 45.89,315.83 56.88,271.64 73.36,337.22 78.85,341.87 80.22,344.2 84.34,296.29 95.33,327.92 117.3,344.2"/>
<polyline fill="none" stroke="#000" stroke-width="1.25" stroke-linejoin="miter" stroke-miterlimit="3" points="40.4,344.2 41.77,344.2 45.89,317.45 56.88,273.96 73.36,339.55 78.85,343.04"/>
<polyline fill="none" stroke="#000" stroke-width="1.25" stroke-linejoin="miter" stroke-miterlimit="3" points="40.4,344.2 41.77,344.2 45.89,319.08 56.88,276.29 73.36,340.01 78.85,343.27"/>
<polyline fill="none" stroke="#000" stroke-width="1.25" stroke-linejoin="miter" stroke-miterlimit="3" points="40.4,344.2 41.77,344.2 45.89,296.29 56.88,344.2"/>
<line x1="35.5" y1="262.2" x2="35.5" y2="345.1" stroke="#000" stroke-width="1.2" stroke-linecap="butt"/>
<line x1="34.9" y1="344.5" x2="117.9" y2="344.5" stroke="#000" stroke-width="1.2" stroke-linecap="butt"/>
<line x1="33.3" y1="344.2" x2="35.1" y2="344.2" stroke="#000" stroke-width="1.2" stroke-linecap="butt"/>
<text x="32.3" y="347.2" font-size="9" font-weight="bold" text-anchor="end">0</text>
<line x1="33.3" y1="332.57" x2="35.1" y2="332.57" stroke="#000" stroke-width="1.2" stroke-linecap="butt"/>
<text x="32.3" y="335.57" font-size="9" font-weight="bold" text-anchor="end">50</text>
<line x1="33.3" y1="320.94" x2="35.1" y2="320.94" stroke="#000" stroke-width="1.2" stroke-linecap="butt"/>
<text x="32.3" y="323.94" font-size="9" font-weight="bold" text-anchor="end">100</text>
<line x1="33.3" y1="309.31" x2="35.1" y2="309.31" stroke="#000" stroke-width="1.2" stroke-linecap="butt"/>
<text x="32.3" y="312.31" font-size="9" font-weight="bold" text-anchor="end">150</text>
<line x1="33.3" y1="297.69" x2="35.1" y2="297.69" stroke="#000" stroke-width="1.2" stroke-linecap="butt"/>
<text x="32.3" y="300.69" font-size="9" font-weight="bold" text-anchor="end">200</text>
<line x1="33.3" y1="286.06" x2="35.1" y2="286.06" stroke="#000" stroke-width="1.2" stroke-linecap="butt"/>
<text x="32.3" y="289.06" font-size="9" font-weight="bold" text-anchor="end">250</text>
<line x1="33.3" y1="274.43" x2="35.1" y2="274.43" stroke="#000" stroke-width="1.2" stroke-linecap="butt"/>
<text x="32.3" y="277.43" font-size="9" font-weight="bold" text-anchor="end">300</text>
<line x1="33.3" y1="262.8" x2="35.1" y2="262.8" stroke="#000" stroke-width="1.2" stroke-linecap="butt"/>
<text x="32.3" y="265.8" font-size="9" font-weight="bold" text-anchor="end">350</text>
<line x1="40.4" y1="344.2" x2="40.4" y2="346" stroke="#000" stroke-width="1.2" stroke-linecap="butt"/>
<text x="40.4" y="353.5" font-size="9" font-weight="bold" text-anchor="middle">0</text>
<line x1="51.39" y1="344.2" x2="51.39" y2="346" stroke="#000" stroke-width="1.2" stroke-linecap="butt"/>
<text x="51.39" y="353.5" font-size="9" font-weight="bold" text-anchor="middle">2</text>
<line x1="62.37" y1="344.2" x2="62.37" y2="346" stroke="#000" stroke-width="1.2" stroke-linecap="butt"/>
<text x="62.37" y="353.5" font-size="9" font-weight="bold" text-anchor="middle">4</text>
<line x1="73.36" y1="344.2" x2="73.36" y2="346" stroke="#000" stroke-width="1.2" stroke-linecap="butt"/>
<text x="73.36" y="353.5" font-size="9" font-weight="bold" text-anchor="middle">6</text>
<line x1="84.34" y1="344.2" x2="84.34" y2="346" stroke="#000" stroke-width="1.2" stroke-linecap="butt"/>
<text x="84.34" y="353.5" font-size="9" font-weight="bold" text-anchor="middle">8</text>
<line x1="95.33" y1="344.2" x2="95.33" y2="346" stroke="#000" stroke-width="1.2" stroke-linecap="butt"/>
<text x="95.33" y="353.5" font-size="9" font-weight="bold" text-anchor="middle">10</text>
<line x1="106.31" y1="344.2" x2="106.31" y2="346" stroke="#000" stroke-width="1.2" stroke-linecap="butt"/>
<text x="106.31" y="353.5" font-size="9" font-weight="bold" text-anchor="middle">12</text>
<line x1="117.3" y1="344.2" x2="117.3" y2="346" stroke="#000" stroke-width="1.2" stroke-linecap="butt"/>
<text x="117.3" y="353.5" font-size="9" font-weight="bold" text-anchor="middle">14</text>
<line x1="155" y1="262.8" x2="155" y2="344.2" stroke="#000" stroke-width="1.2" stroke-dasharray="2.6 1.5" stroke-linecap="butt"/>
<line x1="193.2" y1="262.8" x2="193.2" y2="344.2" stroke="#000" stroke-width="1.2" stroke-dasharray="2.6 1.5" stroke-linecap="butt"/>
<polyline fill="none" stroke="#000" stroke-width="1.25" stroke-linejoin="miter" stroke-miterlimit="3" points="155,344.2 156.36,344.2 160.46,325.59 171.37,309.78 187.74,341.87 193.2,343.5 194.56,340.71 198.66,337.22 209.57,341.87 231.4,344.2"/>
<polyline fill="none" stroke="#000" stroke-width="1.25" stroke-linejoin="miter" stroke-miterlimit="3" points="155,344.2 156.36,344.2 160.46,326.06 171.37,312.34 187.74,342.8 193.2,344.2 194.56,342.34 198.66,338.15 209.57,342.8 231.4,344.2"/>
<polyline fill="none" stroke="#000" stroke-width="1.25" stroke-linejoin="miter" stroke-miterlimit="3" points="155,344.2 156.36,344.2 160.46,326.76 171.37,314.43 187.74,343.5 193.2,344.2"/>
<polyline fill="none" stroke="#000" stroke-width="1.25" stroke-linejoin="miter" stroke-miterlimit="3" points="155,344.2 156.36,344.2 160.46,326.99 171.37,323.04 187.74,344.2 193.2,344.2"/>
<polyline fill="none" stroke="#000" stroke-width="1.25" stroke-linejoin="miter" stroke-miterlimit="3" points="155,344.2 156.36,344.2 160.46,319.55 171.37,344.2"/>
<line x1="149.5" y1="262.2" x2="149.5" y2="345.1" stroke="#000" stroke-width="1.2" stroke-linecap="butt"/>
<line x1="148.9" y1="344.5" x2="232" y2="344.5" stroke="#000" stroke-width="1.2" stroke-linecap="butt"/>
<line x1="147.5" y1="344.2" x2="149.3" y2="344.2" stroke="#000" stroke-width="1.2" stroke-linecap="butt"/>
<text x="146.5" y="347.2" font-size="9" font-weight="bold" text-anchor="end">0</text>
<line x1="147.5" y1="332.57" x2="149.3" y2="332.57" stroke="#000" stroke-width="1.2" stroke-linecap="butt"/>
<text x="146.5" y="335.57" font-size="9" font-weight="bold" text-anchor="end">50</text>
<line x1="147.5" y1="320.94" x2="149.3" y2="320.94" stroke="#000" stroke-width="1.2" stroke-linecap="butt"/>
<text x="146.5" y="323.94" font-size="9" font-weight="bold" text-anchor="end">100</text>
<line x1="147.5" y1="309.31" x2="149.3" y2="309.31" stroke="#000" stroke-width="1.2" stroke-linecap="butt"/>
<text x="146.5" y="312.31" font-size="9" font-weight="bold" text-anchor="end">150</text>
<line x1="147.5" y1="297.69" x2="149.3" y2="297.69" stroke="#000" stroke-width="1.2" stroke-linecap="butt"/>
<text x="146.5" y="300.69" font-size="9" font-weight="bold" text-anchor="end">200</text>
<line x1="147.5" y1="286.06" x2="149.3" y2="286.06" stroke="#000" stroke-width="1.2" stroke-linecap="butt"/>
<text x="146.5" y="289.06" font-size="9" font-weight="bold" text-anchor="end">250</text>
<line x1="147.5" y1="274.43" x2="149.3" y2="274.43" stroke="#000" stroke-width="1.2" stroke-linecap="butt"/>
<text x="146.5" y="277.43" font-size="9" font-weight="bold" text-anchor="end">300</text>
<line x1="147.5" y1="262.8" x2="149.3" y2="262.8" stroke="#000" stroke-width="1.2" stroke-linecap="butt"/>
<text x="146.5" y="265.8" font-size="9" font-weight="bold" text-anchor="end">350</text>
<line x1="155" y1="344.2" x2="155" y2="346" stroke="#000" stroke-width="1.2" stroke-linecap="butt"/>
<text x="155" y="353.5" font-size="9" font-weight="bold" text-anchor="middle">0</text>
<line x1="165.91" y1="344.2" x2="165.91" y2="346" stroke="#000" stroke-width="1.2" stroke-linecap="butt"/>
<text x="165.91" y="353.5" font-size="9" font-weight="bold" text-anchor="middle">2</text>
<line x1="176.83" y1="344.2" x2="176.83" y2="346" stroke="#000" stroke-width="1.2" stroke-linecap="butt"/>
<text x="176.83" y="353.5" font-size="9" font-weight="bold" text-anchor="middle">4</text>
<line x1="187.74" y1="344.2" x2="187.74" y2="346" stroke="#000" stroke-width="1.2" stroke-linecap="butt"/>
<text x="187.74" y="353.5" font-size="9" font-weight="bold" text-anchor="middle">6</text>
<line x1="198.66" y1="344.2" x2="198.66" y2="346" stroke="#000" stroke-width="1.2" stroke-linecap="butt"/>
<text x="198.66" y="353.5" font-size="9" font-weight="bold" text-anchor="middle">8</text>
<line x1="209.57" y1="344.2" x2="209.57" y2="346" stroke="#000" stroke-width="1.2" stroke-linecap="butt"/>
<text x="209.57" y="353.5" font-size="9" font-weight="bold" text-anchor="middle">10</text>
<line x1="220.49" y1="344.2" x2="220.49" y2="346" stroke="#000" stroke-width="1.2" stroke-linecap="butt"/>
<text x="220.49" y="353.5" font-size="9" font-weight="bold" text-anchor="middle">12</text>
<line x1="231.4" y1="344.2" x2="231.4" y2="346" stroke="#000" stroke-width="1.2" stroke-linecap="butt"/>
<text x="231.4" y="353.5" font-size="9" font-weight="bold" text-anchor="middle">14</text>
<line x1="268" y1="262.8" x2="268" y2="344.2" stroke="#000" stroke-width="1.2" stroke-dasharray="2.6 1.5" stroke-linecap="butt"/>
<line x1="306.2" y1="262.8" x2="306.2" y2="344.2" stroke="#000" stroke-width="1.2" stroke-dasharray="2.6 1.5" stroke-linecap="butt"/>
<polyline fill="none" stroke="#e9591f" stroke-width="1.25" stroke-linejoin="miter" stroke-miterlimit="3" points="268,344.2 273.46,333.73 284.37,324.43 300.74,333.73 306.2,339.08 311.66,338.39 322.57,343.5 344.4,344.2"/>
<polyline fill="none" stroke="#e9591f" stroke-width="1.25" stroke-linejoin="miter" stroke-miterlimit="3" points="268,344.2 273.46,336.06 284.37,325.59 300.74,334.9 306.2,340.71 311.66,339.55 322.57,343.73 344.4,344.2"/>
<polyline fill="none" stroke="#e9591f" stroke-width="1.25" stroke-linejoin="miter" stroke-miterlimit="3" points="268,344.2 273.46,337.22 284.37,326.76 300.74,336.06 306.2,343.04 311.66,341.87 322.57,343.73 344.4,344.2"/>
<polyline fill="none" stroke="#e9591f" stroke-width="1.25" stroke-linejoin="miter" stroke-miterlimit="3" points="268,344.2 273.46,338.39 284.37,328.85 300.74,344.2 306.2,338.39 311.66,343.5 344.4,344.2"/>
<polyline fill="none" stroke="#e9591f" stroke-width="1.25" stroke-linejoin="miter" stroke-miterlimit="3" points="268,344.2 273.46,339.55 284.37,331.64 300.74,344.2 306.2,344.2"/>
<line x1="262.5" y1="262.2" x2="262.5" y2="345.1" stroke="#000" stroke-width="1.2" stroke-linecap="butt"/>
<line x1="261.9" y1="344.5" x2="345" y2="344.5" stroke="#000" stroke-width="1.2" stroke-linecap="butt"/>
<line x1="260.5" y1="344.2" x2="262.3" y2="344.2" stroke="#000" stroke-width="1.2" stroke-linecap="butt"/>
<text x="259.5" y="347.2" font-size="9" font-weight="bold" text-anchor="end">0</text>
<line x1="260.5" y1="332.57" x2="262.3" y2="332.57" stroke="#000" stroke-width="1.2" stroke-linecap="butt"/>
<text x="259.5" y="335.57" font-size="9" font-weight="bold" text-anchor="end">50</text>
<line x1="260.5" y1="320.94" x2="262.3" y2="320.94" stroke="#000" stroke-width="1.2" stroke-linecap="butt"/>
<text x="259.5" y="323.94" font-size="9" font-weight="bold" text-anchor="end">100</text>
<line x1="260.5" y1="309.31" x2="262.3" y2="309.31" stroke="#000" stroke-width="1.2" stroke-linecap="butt"/>
<text x="259.5" y="312.31" font-size="9" font-weight="bold" text-anchor="end">150</text>
<line x1="260.5" y1="297.69" x2="262.3" y2="297.69" stroke="#000" stroke-width="1.2" stroke-linecap="butt"/>
<text x="259.5" y="300.69" font-size="9" font-weight="bold" text-anchor="end">200</text>
<line x1="260.5" y1="286.06" x2="262.3" y2="286.06" stroke="#000" stroke-width="1.2" stroke-linecap="butt"/>
<text x="259.5" y="289.06" font-size="9" font-weight="bold" text-anchor="end">250</text>
<line x1="260.5" y1="274.43" x2="262.3" y2="274.43" stroke="#000" stroke-width="1.2" stroke-linecap="butt"/>
<text x="259.5" y="277.43" font-size="9" font-weight="bold" text-anchor="end">300</text>
<line x1="260.5" y1="262.8" x2="262.3" y2="262.8" stroke="#000" stroke-width="1.2" stroke-linecap="butt"/>
<text x="259.5" y="265.8" font-size="9" font-weight="bold" text-anchor="end">350</text>
<line x1="268" y1="344.2" x2="268" y2="346" stroke="#000" stroke-width="1.2" stroke-linecap="butt"/>
<text x="268" y="353.5" font-size="9" font-weight="bold" text-anchor="middle">0</text>
<line x1="278.91" y1="344.2" x2="278.91" y2="346" stroke="#000" stroke-width="1.2" stroke-linecap="butt"/>
<text x="278.91" y="353.5" font-size="9" font-weight="bold" text-anchor="middle">2</text>
<line x1="289.83" y1="344.2" x2="289.83" y2="346" stroke="#000" stroke-width="1.2" stroke-linecap="butt"/>
<text x="289.83" y="353.5" font-size="9" font-weight="bold" text-anchor="middle">4</text>
<line x1="300.74" y1="344.2" x2="300.74" y2="346" stroke="#000" stroke-width="1.2" stroke-linecap="butt"/>
<text x="300.74" y="353.5" font-size="9" font-weight="bold" text-anchor="middle">6</text>
<line x1="311.66" y1="344.2" x2="311.66" y2="346" stroke="#000" stroke-width="1.2" stroke-linecap="butt"/>
<text x="311.66" y="353.5" font-size="9" font-weight="bold" text-anchor="middle">8</text>
<line x1="322.57" y1="344.2" x2="322.57" y2="346" stroke="#000" stroke-width="1.2" stroke-linecap="butt"/>
<text x="322.57" y="353.5" font-size="9" font-weight="bold" text-anchor="middle">10</text>
<line x1="333.49" y1="344.2" x2="333.49" y2="346" stroke="#000" stroke-width="1.2" stroke-linecap="butt"/>
<text x="333.49" y="353.5" font-size="9" font-weight="bold" text-anchor="middle">12</text>
<line x1="344.4" y1="344.2" x2="344.4" y2="346" stroke="#000" stroke-width="1.2" stroke-linecap="butt"/>
<text x="344.4" y="353.5" font-size="9" font-weight="bold" text-anchor="middle">14</text>
<line x1="383.9" y1="262.8" x2="383.9" y2="344.2" stroke="#000" stroke-width="1.2" stroke-dasharray="2.6 1.5" stroke-linecap="butt"/>
<line x1="422.05" y1="262.8" x2="422.05" y2="344.2" stroke="#000" stroke-width="1.2" stroke-dasharray="2.6 1.5" stroke-linecap="butt"/>
<polyline fill="none" stroke="#e9591f" stroke-width="1.25" stroke-linejoin="miter" stroke-miterlimit="3" points="383.9,344.2 389.35,340.71 400.25,335.83 416.6,336.76 422.05,341.41 427.5,340.94 438.4,343.73 460.2,344.2"/>
<polyline fill="none" stroke="#e9591f" stroke-width="1.25" stroke-linejoin="miter" stroke-miterlimit="3" points="383.9,344.2 389.35,341.41 400.25,337.69 416.6,339.55 422.05,342.34 427.5,341.87 438.4,343.73 460.2,344.2"/>
<polyline fill="none" stroke="#e9591f" stroke-width="1.25" stroke-linejoin="miter" stroke-miterlimit="3" points="383.9,344.2 389.35,341.87 400.25,339.55 416.6,340.71 422.05,343.04 427.5,343.04 438.4,344.2 460.2,344.2"/>
<polyline fill="none" stroke="#e9591f" stroke-width="1.25" stroke-linejoin="miter" stroke-miterlimit="3" points="383.9,344.2 389.35,340.48 400.25,341.87 416.6,343.5 422.05,344.2"/>
<polyline fill="none" stroke="#e9591f" stroke-width="1.25" stroke-linejoin="miter" stroke-miterlimit="3" points="383.9,344.2 389.35,343.04 400.25,343.04 416.6,344.2"/>
<line x1="378.5" y1="262.2" x2="378.5" y2="345.1" stroke="#000" stroke-width="1.2" stroke-linecap="butt"/>
<line x1="377.9" y1="344.5" x2="460.8" y2="344.5" stroke="#000" stroke-width="1.2" stroke-linecap="butt"/>
<line x1="377" y1="344.2" x2="378.8" y2="344.2" stroke="#000" stroke-width="1.2" stroke-linecap="butt"/>
<text x="376" y="347.2" font-size="9" font-weight="bold" text-anchor="end">0</text>
<line x1="377" y1="332.57" x2="378.8" y2="332.57" stroke="#000" stroke-width="1.2" stroke-linecap="butt"/>
<text x="376" y="335.57" font-size="9" font-weight="bold" text-anchor="end">50</text>
<line x1="377" y1="320.94" x2="378.8" y2="320.94" stroke="#000" stroke-width="1.2" stroke-linecap="butt"/>
<text x="376" y="323.94" font-size="9" font-weight="bold" text-anchor="end">100</text>
<line x1="377" y1="309.31" x2="378.8" y2="309.31" stroke="#000" stroke-width="1.2" stroke-linecap="butt"/>
<text x="376" y="312.31" font-size="9" font-weight="bold" text-anchor="end">150</text>
<line x1="377" y1="297.69" x2="378.8" y2="297.69" stroke="#000" stroke-width="1.2" stroke-linecap="butt"/>
<text x="376" y="300.69" font-size="9" font-weight="bold" text-anchor="end">200</text>
<line x1="377" y1="286.06" x2="378.8" y2="286.06" stroke="#000" stroke-width="1.2" stroke-linecap="butt"/>
<text x="376" y="289.06" font-size="9" font-weight="bold" text-anchor="end">250</text>
<line x1="377" y1="274.43" x2="378.8" y2="274.43" stroke="#000" stroke-width="1.2" stroke-linecap="butt"/>
<text x="376" y="277.43" font-size="9" font-weight="bold" text-anchor="end">300</text>
<line x1="377" y1="262.8" x2="378.8" y2="262.8" stroke="#000" stroke-width="1.2" stroke-linecap="butt"/>
<text x="376" y="265.8" font-size="9" font-weight="bold" text-anchor="end">350</text>
<line x1="383.9" y1="344.2" x2="383.9" y2="346" stroke="#000" stroke-width="1.2" stroke-linecap="butt"/>
<text x="383.9" y="353.5" font-size="9" font-weight="bold" text-anchor="middle">0</text>
<line x1="394.8" y1="344.2" x2="394.8" y2="346" stroke="#000" stroke-width="1.2" stroke-linecap="butt"/>
<text x="394.8" y="353.5" font-size="9" font-weight="bold" text-anchor="middle">2</text>
<line x1="405.7" y1="344.2" x2="405.7" y2="346" stroke="#000" stroke-width="1.2" stroke-linecap="butt"/>
<text x="405.7" y="353.5" font-size="9" font-weight="bold" text-anchor="middle">4</text>
<line x1="416.6" y1="344.2" x2="416.6" y2="346" stroke="#000" stroke-width="1.2" stroke-linecap="butt"/>
<text x="416.6" y="353.5" font-size="9" font-weight="bold" text-anchor="middle">6</text>
<line x1="427.5" y1="344.2" x2="427.5" y2="346" stroke="#000" stroke-width="1.2" stroke-linecap="butt"/>
<text x="427.5" y="353.5" font-size="9" font-weight="bold" text-anchor="middle">8</text>
<line x1="438.4" y1="344.2" x2="438.4" y2="346" stroke="#000" stroke-width="1.2" stroke-linecap="butt"/>
<text x="438.4" y="353.5" font-size="9" font-weight="bold" text-anchor="middle">10</text>
<line x1="449.3" y1="344.2" x2="449.3" y2="346" stroke="#000" stroke-width="1.2" stroke-linecap="butt"/>
<text x="449.3" y="353.5" font-size="9" font-weight="bold" text-anchor="middle">12</text>
<line x1="460.2" y1="344.2" x2="460.2" y2="346" stroke="#000" stroke-width="1.2" stroke-linecap="butt"/>
<text x="460.2" y="353.5" font-size="9" font-weight="bold" text-anchor="middle">14</text>
<line x1="493.5" y1="262.8" x2="493.5" y2="344.2" stroke="#000" stroke-width="1.2" stroke-dasharray="2.6 1.5" stroke-linecap="butt"/>
<line x1="531.85" y1="262.8" x2="531.85" y2="344.2" stroke="#000" stroke-width="1.2" stroke-dasharray="2.6 1.5" stroke-linecap="butt"/>
<polyline fill="none" stroke="#000" stroke-width="1.25" stroke-linejoin="miter" stroke-miterlimit="3" points="493.5,344.2 570.2,344.2"/>
<line x1="488.5" y1="262.2" x2="488.5" y2="345.1" stroke="#000" stroke-width="1.2" stroke-linecap="butt"/>
<line x1="487.9" y1="344.5" x2="570.8" y2="344.5" stroke="#000" stroke-width="1.2" stroke-linecap="butt"/>
<line x1="486.4" y1="344.2" x2="488.2" y2="344.2" stroke="#000" stroke-width="1.2" stroke-linecap="butt"/>
<text x="485.4" y="347.2" font-size="9" font-weight="bold" text-anchor="end">0</text>
<line x1="486.4" y1="332.57" x2="488.2" y2="332.57" stroke="#000" stroke-width="1.2" stroke-linecap="butt"/>
<text x="485.4" y="335.57" font-size="9" font-weight="bold" text-anchor="end">50</text>
<line x1="486.4" y1="320.94" x2="488.2" y2="320.94" stroke="#000" stroke-width="1.2" stroke-linecap="butt"/>
<text x="485.4" y="323.94" font-size="9" font-weight="bold" text-anchor="end">100</text>
<line x1="486.4" y1="309.31" x2="488.2" y2="309.31" stroke="#000" stroke-width="1.2" stroke-linecap="butt"/>
<text x="485.4" y="312.31" font-size="9" font-weight="bold" text-anchor="end">150</text>
<line x1="486.4" y1="297.69" x2="488.2" y2="297.69" stroke="#000" stroke-width="1.2" stroke-linecap="butt"/>
<text x="485.4" y="300.69" font-size="9" font-weight="bold" text-anchor="end">200</text>
<line x1="486.4" y1="286.06" x2="488.2" y2="286.06" stroke="#000" stroke-width="1.2" stroke-linecap="butt"/>
<text x="485.4" y="289.06" font-size="9" font-weight="bold" text-anchor="end">250</text>
<line x1="486.4" y1="274.43" x2="488.2" y2="274.43" stroke="#000" stroke-width="1.2" stroke-linecap="butt"/>
<text x="485.4" y="277.43" font-size="9" font-weight="bold" text-anchor="end">300</text>
<line x1="486.4" y1="262.8" x2="488.2" y2="262.8" stroke="#000" stroke-width="1.2" stroke-linecap="butt"/>
<text x="485.4" y="265.8" font-size="9" font-weight="bold" text-anchor="end">350</text>
<line x1="493.5" y1="344.2" x2="493.5" y2="346" stroke="#000" stroke-width="1.2" stroke-linecap="butt"/>
<text x="493.5" y="353.5" font-size="9" font-weight="bold" text-anchor="middle">0</text>
<line x1="504.46" y1="344.2" x2="504.46" y2="346" stroke="#000" stroke-width="1.2" stroke-linecap="butt"/>
<text x="504.46" y="353.5" font-size="9" font-weight="bold" text-anchor="middle">2</text>
<line x1="515.41" y1="344.2" x2="515.41" y2="346" stroke="#000" stroke-width="1.2" stroke-linecap="butt"/>
<text x="515.41" y="353.5" font-size="9" font-weight="bold" text-anchor="middle">4</text>
<line x1="526.37" y1="344.2" x2="526.37" y2="346" stroke="#000" stroke-width="1.2" stroke-linecap="butt"/>
<text x="526.37" y="353.5" font-size="9" font-weight="bold" text-anchor="middle">6</text>
<line x1="537.33" y1="344.2" x2="537.33" y2="346" stroke="#000" stroke-width="1.2" stroke-linecap="butt"/>
<text x="537.33" y="353.5" font-size="9" font-weight="bold" text-anchor="middle">8</text>
<line x1="548.29" y1="344.2" x2="548.29" y2="346" stroke="#000" stroke-width="1.2" stroke-linecap="butt"/>
<text x="548.29" y="353.5" font-size="9" font-weight="bold" text-anchor="middle">10</text>
<line x1="559.24" y1="344.2" x2="559.24" y2="346" stroke="#000" stroke-width="1.2" stroke-linecap="butt"/>
<text x="559.24" y="353.5" font-size="9" font-weight="bold" text-anchor="middle">12</text>
<line x1="570.2" y1="344.2" x2="570.2" y2="346" stroke="#000" stroke-width="1.2" stroke-linecap="butt"/>
<text x="570.2" y="353.5" font-size="9" font-weight="bold" text-anchor="middle">14</text>
<text transform="translate(11.2 300.7) rotate(-90)" font-size="9" font-weight="bold" text-anchor="middle">IFNγ (ng/mL)</text>
<line x1="40.2" y1="374.7" x2="40.2" y2="456.8" stroke="#000" stroke-width="1.2" stroke-dasharray="2.6 1.5" stroke-linecap="butt"/>
<line x1="80.45" y1="374.7" x2="80.45" y2="456.8" stroke="#000" stroke-width="1.2" stroke-dasharray="2.6 1.5" stroke-linecap="butt"/>
<polyline fill="none" stroke="#000" stroke-width="1.25" stroke-linejoin="miter" stroke-miterlimit="3" points="40.2,456.8 45.95,432.17 57.45,388.66 74.7,450.23 80.45,451.87 86.2,446.95 97.7,449.41 120.7,451.87"/>
<polyline fill="none" stroke="#000" stroke-width="1.25" stroke-linejoin="miter" stroke-miterlimit="3" points="40.2,456.8 45.95,432.99 57.45,392.76 74.7,451.05 80.45,452.69 86.2,447.77 97.7,453.52 120.7,453.52"/>
<polyline fill="none" stroke="#000" stroke-width="1.25" stroke-linejoin="miter" stroke-miterlimit="3" points="40.2,456.8 45.95,433.81 57.45,396.05 74.7,451.87 80.45,453.52"/>
<polyline fill="none" stroke="#000" stroke-width="1.25" stroke-linejoin="miter" stroke-miterlimit="3" points="40.2,456.8 45.95,407.54 57.45,410.82 74.7,453.52 80.45,453.52 81.89,456.8 86.2,447.77 120.7,452.69"/>
<polyline fill="none" stroke="#000" stroke-width="1.25" stroke-linejoin="miter" stroke-miterlimit="3" points="40.2,456.8 45.95,430.53 57.45,456.8"/>
<line x1="34.5" y1="374.1" x2="34.5" y2="457.1" stroke="#000" stroke-width="1.2" stroke-linecap="butt"/>
<line x1="33.9" y1="456.5" x2="121.3" y2="456.5" stroke="#000" stroke-width="1.2" stroke-linecap="butt"/>
<line x1="32.7" y1="456.8" x2="34.5" y2="456.8" stroke="#000" stroke-width="1.2" stroke-linecap="butt"/>
<text x="31.7" y="459.8" font-size="9" font-weight="bold" text-anchor="end">0.0</text>
<line x1="32.7" y1="440.38" x2="34.5" y2="440.38" stroke="#000" stroke-width="1.2" stroke-linecap="butt"/>
<text x="31.7" y="443.38" font-size="9" font-weight="bold" text-anchor="end">0.1</text>
<line x1="32.7" y1="423.96" x2="34.5" y2="423.96" stroke="#000" stroke-width="1.2" stroke-linecap="butt"/>
<text x="31.7" y="426.96" font-size="9" font-weight="bold" text-anchor="end">0.2</text>
<line x1="32.7" y1="407.54" x2="34.5" y2="407.54" stroke="#000" stroke-width="1.2" stroke-linecap="butt"/>
<text x="31.7" y="410.54" font-size="9" font-weight="bold" text-anchor="end">0.3</text>
<line x1="32.7" y1="391.12" x2="34.5" y2="391.12" stroke="#000" stroke-width="1.2" stroke-linecap="butt"/>
<text x="31.7" y="394.12" font-size="9" font-weight="bold" text-anchor="end">0.4</text>
<line x1="32.7" y1="374.7" x2="34.5" y2="374.7" stroke="#000" stroke-width="1.2" stroke-linecap="butt"/>
<text x="31.7" y="377.7" font-size="9" font-weight="bold" text-anchor="end">0.5</text>
<line x1="40.2" y1="456.8" x2="40.2" y2="458.6" stroke="#000" stroke-width="1.2" stroke-linecap="butt"/>
<text x="40.2" y="466.8" font-size="9" font-weight="bold" text-anchor="middle">0</text>
<line x1="51.7" y1="456.8" x2="51.7" y2="458.6" stroke="#000" stroke-width="1.2" stroke-linecap="butt"/>
<text x="51.7" y="466.8" font-size="9" font-weight="bold" text-anchor="middle">2</text>
<line x1="63.2" y1="456.8" x2="63.2" y2="458.6" stroke="#000" stroke-width="1.2" stroke-linecap="butt"/>
<text x="63.2" y="466.8" font-size="9" font-weight="bold" text-anchor="middle">4</text>
<line x1="74.7" y1="456.8" x2="74.7" y2="458.6" stroke="#000" stroke-width="1.2" stroke-linecap="butt"/>
<text x="74.7" y="466.8" font-size="9" font-weight="bold" text-anchor="middle">6</text>
<line x1="86.2" y1="456.8" x2="86.2" y2="458.6" stroke="#000" stroke-width="1.2" stroke-linecap="butt"/>
<text x="86.2" y="466.8" font-size="9" font-weight="bold" text-anchor="middle">8</text>
<line x1="97.7" y1="456.8" x2="97.7" y2="458.6" stroke="#000" stroke-width="1.2" stroke-linecap="butt"/>
<text x="97.7" y="466.8" font-size="9" font-weight="bold" text-anchor="middle">10</text>
<line x1="109.2" y1="456.8" x2="109.2" y2="458.6" stroke="#000" stroke-width="1.2" stroke-linecap="butt"/>
<text x="109.2" y="466.8" font-size="9" font-weight="bold" text-anchor="middle">12</text>
<line x1="120.7" y1="456.8" x2="120.7" y2="458.6" stroke="#000" stroke-width="1.2" stroke-linecap="butt"/>
<text x="120.7" y="466.8" font-size="9" font-weight="bold" text-anchor="middle">14</text>
<text x="79.1" y="475.1" font-size="9" font-weight="bold" text-anchor="middle">Days</text>
<line x1="156.1" y1="374.7" x2="156.1" y2="456.8" stroke="#000" stroke-width="1.2" stroke-dasharray="2.6 1.5" stroke-linecap="butt"/>
<line x1="196.35" y1="374.7" x2="196.35" y2="456.8" stroke="#000" stroke-width="1.2" stroke-dasharray="2.6 1.5" stroke-linecap="butt"/>
<polyline fill="none" stroke="#000" stroke-width="1.25" stroke-linejoin="miter" stroke-miterlimit="3" points="156.1,453.52 161.85,427.24 173.35,412.47 190.6,451.87 196.35,451.87 202.1,456.8 213.6,453.52 236.6,451.87"/>
<polyline fill="none" stroke="#000" stroke-width="1.25" stroke-linejoin="miter" stroke-miterlimit="3" points="156.1,451.87 161.85,420.68 173.35,419.03 190.6,452.69 196.35,453.52 197.79,456.8 202.1,451.87 213.6,456.8 236.6,453.52"/>
<polyline fill="none" stroke="#000" stroke-width="1.25" stroke-linejoin="miter" stroke-miterlimit="3" points="156.1,448.59 161.85,422.32 173.35,429.71 190.6,456.8 196.35,456.8 202.1,451.87 213.6,451.87 236.6,452.69"/>
<polyline fill="none" stroke="#000" stroke-width="1.25" stroke-linejoin="miter" stroke-miterlimit="3" points="156.1,453.52 161.85,445.31 173.35,456.8"/>
<polyline fill="none" stroke="#000" stroke-width="1.25" stroke-linejoin="miter" stroke-miterlimit="3" points="196.35,455.16 202.1,453.52 213.6,455.16 236.6,455.16"/>
<line x1="150.5" y1="374.1" x2="150.5" y2="457.1" stroke="#000" stroke-width="1.2" stroke-linecap="butt"/>
<line x1="149.9" y1="456.5" x2="237.2" y2="456.5" stroke="#000" stroke-width="1.2" stroke-linecap="butt"/>
<line x1="148.4" y1="456.8" x2="150.2" y2="456.8" stroke="#000" stroke-width="1.2" stroke-linecap="butt"/>
<text x="147.4" y="459.8" font-size="9" font-weight="bold" text-anchor="end">0.0</text>
<line x1="148.4" y1="440.38" x2="150.2" y2="440.38" stroke="#000" stroke-width="1.2" stroke-linecap="butt"/>
<text x="147.4" y="443.38" font-size="9" font-weight="bold" text-anchor="end">0.1</text>
<line x1="148.4" y1="423.96" x2="150.2" y2="423.96" stroke="#000" stroke-width="1.2" stroke-linecap="butt"/>
<text x="147.4" y="426.96" font-size="9" font-weight="bold" text-anchor="end">0.2</text>
<line x1="148.4" y1="407.54" x2="150.2" y2="407.54" stroke="#000" stroke-width="1.2" stroke-linecap="butt"/>
<text x="147.4" y="410.54" font-size="9" font-weight="bold" text-anchor="end">0.3</text>
<line x1="148.4" y1="391.12" x2="150.2" y2="391.12" stroke="#000" stroke-width="1.2" stroke-linecap="butt"/>
<text x="147.4" y="394.12" font-size="9" font-weight="bold" text-anchor="end">0.4</text>
<line x1="148.4" y1="374.7" x2="150.2" y2="374.7" stroke="#000" stroke-width="1.2" stroke-linecap="butt"/>
<text x="147.4" y="377.7" font-size="9" font-weight="bold" text-anchor="end">0.5</text>
<line x1="156.1" y1="456.8" x2="156.1" y2="458.6" stroke="#000" stroke-width="1.2" stroke-linecap="butt"/>
<text x="156.1" y="466.8" font-size="9" font-weight="bold" text-anchor="middle">0</text>
<line x1="167.6" y1="456.8" x2="167.6" y2="458.6" stroke="#000" stroke-width="1.2" stroke-linecap="butt"/>
<text x="167.6" y="466.8" font-size="9" font-weight="bold" text-anchor="middle">2</text>
<line x1="179.1" y1="456.8" x2="179.1" y2="458.6" stroke="#000" stroke-width="1.2" stroke-linecap="butt"/>
<text x="179.1" y="466.8" font-size="9" font-weight="bold" text-anchor="middle">4</text>
<line x1="190.6" y1="456.8" x2="190.6" y2="458.6" stroke="#000" stroke-width="1.2" stroke-linecap="butt"/>
<text x="190.6" y="466.8" font-size="9" font-weight="bold" text-anchor="middle">6</text>
<line x1="202.1" y1="456.8" x2="202.1" y2="458.6" stroke="#000" stroke-width="1.2" stroke-linecap="butt"/>
<text x="202.1" y="466.8" font-size="9" font-weight="bold" text-anchor="middle">8</text>
<line x1="213.6" y1="456.8" x2="213.6" y2="458.6" stroke="#000" stroke-width="1.2" stroke-linecap="butt"/>
<text x="213.6" y="466.8" font-size="9" font-weight="bold" text-anchor="middle">10</text>
<line x1="225.1" y1="456.8" x2="225.1" y2="458.6" stroke="#000" stroke-width="1.2" stroke-linecap="butt"/>
<text x="225.1" y="466.8" font-size="9" font-weight="bold" text-anchor="middle">12</text>
<line x1="236.6" y1="456.8" x2="236.6" y2="458.6" stroke="#000" stroke-width="1.2" stroke-linecap="butt"/>
<text x="236.6" y="466.8" font-size="9" font-weight="bold" text-anchor="middle">14</text>
<text x="195" y="475.1" font-size="9" font-weight="bold" text-anchor="middle">Days</text>
<line x1="267" y1="374.7" x2="267" y2="456.8" stroke="#000" stroke-width="1.2" stroke-dasharray="2.6 1.5" stroke-linecap="butt"/>
<line x1="307.15" y1="374.7" x2="307.15" y2="456.8" stroke="#000" stroke-width="1.2" stroke-dasharray="2.6 1.5" stroke-linecap="butt"/>
<polyline fill="none" stroke="#e9591f" stroke-width="1.25" stroke-linejoin="miter" stroke-miterlimit="3" points="267,455.16 272.74,446.95 284.21,428.56 301.41,456.8 307.15,451.87 312.89,456.8 324.36,451.87 347.3,452.69"/>
<polyline fill="none" stroke="#e9591f" stroke-width="1.25" stroke-linejoin="miter" stroke-miterlimit="3" points="267,451.87 272.74,443.66 284.21,437.1 301.41,451.87 307.15,453.52 312.89,451.87 324.36,451.05 347.3,456.8"/>
<polyline fill="none" stroke="#e9591f" stroke-width="1.25" stroke-linejoin="miter" stroke-miterlimit="3" points="267,453.52 272.74,445.31 284.21,438.74 301.41,453.52 307.15,456.8 312.89,453.52 324.36,454.34 347.3,455.16"/>
<polyline fill="none" stroke="#e9591f" stroke-width="1.25" stroke-linejoin="miter" stroke-miterlimit="3" points="267,456.8 272.74,446.95 284.21,440.38 301.41,453.52 307.15,451.87 312.89,453.52 324.36,456.8 347.3,456.8"/>
<polyline fill="none" stroke="#e9591f" stroke-width="1.25" stroke-linejoin="miter" stroke-miterlimit="3" points="267,456.8 272.74,448.59 284.21,443.66 301.41,456.8 307.15,456.8"/>
<line x1="261.5" y1="374.1" x2="261.5" y2="457.1" stroke="#000" stroke-width="1.2" stroke-linecap="butt"/>
<line x1="260.9" y1="456.5" x2="347.9" y2="456.5" stroke="#000" stroke-width="1.2" stroke-linecap="butt"/>
<line x1="259.5" y1="456.8" x2="261.3" y2="456.8" stroke="#000" stroke-width="1.2" stroke-linecap="butt"/>
<text x="258.5" y="459.8" font-size="9" font-weight="bold" text-anchor="end">0.0</text>
<line x1="259.5" y1="440.38" x2="261.3" y2="440.38" stroke="#000" stroke-width="1.2" stroke-linecap="butt"/>
<text x="258.5" y="443.38" font-size="9" font-weight="bold" text-anchor="end">0.1</text>
<line x1="259.5" y1="423.96" x2="261.3" y2="423.96" stroke="#000" stroke-width="1.2" stroke-linecap="butt"/>
<text x="258.5" y="426.96" font-size="9" font-weight="bold" text-anchor="end">0.2</text>
<line x1="259.5" y1="407.54" x2="261.3" y2="407.54" stroke="#000" stroke-width="1.2" stroke-linecap="butt"/>
<text x="258.5" y="410.54" font-size="9" font-weight="bold" text-anchor="end">0.3</text>
<line x1="259.5" y1="391.12" x2="261.3" y2="391.12" stroke="#000" stroke-width="1.2" stroke-linecap="butt"/>
<text x="258.5" y="394.12" font-size="9" font-weight="bold" text-anchor="end">0.4</text>
<line x1="259.5" y1="374.7" x2="261.3" y2="374.7" stroke="#000" stroke-width="1.2" stroke-linecap="butt"/>
<text x="258.5" y="377.7" font-size="9" font-weight="bold" text-anchor="end">0.5</text>
<line x1="267" y1="456.8" x2="267" y2="458.6" stroke="#000" stroke-width="1.2" stroke-linecap="butt"/>
<text x="267" y="466.8" font-size="9" font-weight="bold" text-anchor="middle">0</text>
<line x1="278.47" y1="456.8" x2="278.47" y2="458.6" stroke="#000" stroke-width="1.2" stroke-linecap="butt"/>
<text x="278.47" y="466.8" font-size="9" font-weight="bold" text-anchor="middle">2</text>
<line x1="289.94" y1="456.8" x2="289.94" y2="458.6" stroke="#000" stroke-width="1.2" stroke-linecap="butt"/>
<text x="289.94" y="466.8" font-size="9" font-weight="bold" text-anchor="middle">4</text>
<line x1="301.41" y1="456.8" x2="301.41" y2="458.6" stroke="#000" stroke-width="1.2" stroke-linecap="butt"/>
<text x="301.41" y="466.8" font-size="9" font-weight="bold" text-anchor="middle">6</text>
<line x1="312.89" y1="456.8" x2="312.89" y2="458.6" stroke="#000" stroke-width="1.2" stroke-linecap="butt"/>
<text x="312.89" y="466.8" font-size="9" font-weight="bold" text-anchor="middle">8</text>
<line x1="324.36" y1="456.8" x2="324.36" y2="458.6" stroke="#000" stroke-width="1.2" stroke-linecap="butt"/>
<text x="324.36" y="466.8" font-size="9" font-weight="bold" text-anchor="middle">10</text>
<line x1="335.83" y1="456.8" x2="335.83" y2="458.6" stroke="#000" stroke-width="1.2" stroke-linecap="butt"/>
<text x="335.83" y="466.8" font-size="9" font-weight="bold" text-anchor="middle">12</text>
<line x1="347.3" y1="456.8" x2="347.3" y2="458.6" stroke="#000" stroke-width="1.2" stroke-linecap="butt"/>
<text x="347.3" y="466.8" font-size="9" font-weight="bold" text-anchor="middle">14</text>
<text x="306.9" y="475.1" font-size="9" font-weight="bold" text-anchor="middle">Days</text>
<line x1="383.5" y1="374.7" x2="383.5" y2="456.8" stroke="#000" stroke-width="1.2" stroke-dasharray="2.6 1.5" stroke-linecap="butt"/>
<line x1="423.85" y1="374.7" x2="423.85" y2="456.8" stroke="#000" stroke-width="1.2" stroke-dasharray="2.6 1.5" stroke-linecap="butt"/>
<polyline fill="none" stroke="#e9591f" stroke-width="1.25" stroke-linejoin="miter" stroke-miterlimit="3" points="383.5,453.52 389.26,437.92 400.79,442.84 418.09,456.8 423.85,451.87 429.61,456.8 464.2,456.8"/>
<polyline fill="none" stroke="#e9591f" stroke-width="1.25" stroke-linejoin="miter" stroke-miterlimit="3" points="383.5,451.87 389.26,451.05 400.79,451.05 418.09,451.87 423.85,449.41 429.61,456.8 441.14,453.52 464.2,456.8"/>
<polyline fill="none" stroke="#e9591f" stroke-width="1.25" stroke-linejoin="miter" stroke-miterlimit="3" points="383.5,453.52 389.26,451.87 400.79,456.8 418.09,456.8"/>
<polyline fill="none" stroke="#e9591f" stroke-width="1.25" stroke-linejoin="miter" stroke-miterlimit="3" points="383.5,456.8 389.26,451.87 400.79,452.69 418.09,451.05 423.85,451.87 429.61,452.69 441.14,456.8 464.2,456.8"/>
<polyline fill="none" stroke="#e9591f" stroke-width="1.25" stroke-linejoin="miter" stroke-miterlimit="3" points="425.29,456.8 429.61,451.87 441.14,452.69 464.2,456.8"/>
<polyline fill="none" stroke="#e9591f" stroke-width="1.25" stroke-linejoin="miter" stroke-miterlimit="3" points="429.61,455.16 441.14,451.87 464.2,456.8"/>
<line x1="378.5" y1="374.1" x2="378.5" y2="457.1" stroke="#000" stroke-width="1.2" stroke-linecap="butt"/>
<line x1="377.9" y1="456.5" x2="464.8" y2="456.5" stroke="#000" stroke-width="1.2" stroke-linecap="butt"/>
<line x1="376.4" y1="456.8" x2="378.2" y2="456.8" stroke="#000" stroke-width="1.2" stroke-linecap="butt"/>
<text x="375.4" y="459.8" font-size="9" font-weight="bold" text-anchor="end">0.0</text>
<line x1="376.4" y1="440.38" x2="378.2" y2="440.38" stroke="#000" stroke-width="1.2" stroke-linecap="butt"/>
<text x="375.4" y="443.38" font-size="9" font-weight="bold" text-anchor="end">0.1</text>
<line x1="376.4" y1="423.96" x2="378.2" y2="423.96" stroke="#000" stroke-width="1.2" stroke-linecap="butt"/>
<text x="375.4" y="426.96" font-size="9" font-weight="bold" text-anchor="end">0.2</text>
<line x1="376.4" y1="407.54" x2="378.2" y2="407.54" stroke="#000" stroke-width="1.2" stroke-linecap="butt"/>
<text x="375.4" y="410.54" font-size="9" font-weight="bold" text-anchor="end">0.3</text>
<line x1="376.4" y1="391.12" x2="378.2" y2="391.12" stroke="#000" stroke-width="1.2" stroke-linecap="butt"/>
<text x="375.4" y="394.12" font-size="9" font-weight="bold" text-anchor="end">0.4</text>
<line x1="376.4" y1="374.7" x2="378.2" y2="374.7" stroke="#000" stroke-width="1.2" stroke-linecap="butt"/>
<text x="375.4" y="377.7" font-size="9" font-weight="bold" text-anchor="end">0.5</text>
<line x1="383.5" y1="456.8" x2="383.5" y2="458.6" stroke="#000" stroke-width="1.2" stroke-linecap="butt"/>
<text x="383.5" y="466.8" font-size="9" font-weight="bold" text-anchor="middle">0</text>
<line x1="395.03" y1="456.8" x2="395.03" y2="458.6" stroke="#000" stroke-width="1.2" stroke-linecap="butt"/>
<text x="395.03" y="466.8" font-size="9" font-weight="bold" text-anchor="middle">2</text>
<line x1="406.56" y1="456.8" x2="406.56" y2="458.6" stroke="#000" stroke-width="1.2" stroke-linecap="butt"/>
<text x="406.56" y="466.8" font-size="9" font-weight="bold" text-anchor="middle">4</text>
<line x1="418.09" y1="456.8" x2="418.09" y2="458.6" stroke="#000" stroke-width="1.2" stroke-linecap="butt"/>
<text x="418.09" y="466.8" font-size="9" font-weight="bold" text-anchor="middle">6</text>
<line x1="429.61" y1="456.8" x2="429.61" y2="458.6" stroke="#000" stroke-width="1.2" stroke-linecap="butt"/>
<text x="429.61" y="466.8" font-size="9" font-weight="bold" text-anchor="middle">8</text>
<line x1="441.14" y1="456.8" x2="441.14" y2="458.6" stroke="#000" stroke-width="1.2" stroke-linecap="butt"/>
<text x="441.14" y="466.8" font-size="9" font-weight="bold" text-anchor="middle">10</text>
<line x1="452.67" y1="456.8" x2="452.67" y2="458.6" stroke="#000" stroke-width="1.2" stroke-linecap="butt"/>
<text x="452.67" y="466.8" font-size="9" font-weight="bold" text-anchor="middle">12</text>
<line x1="464.2" y1="456.8" x2="464.2" y2="458.6" stroke="#000" stroke-width="1.2" stroke-linecap="butt"/>
<text x="464.2" y="466.8" font-size="9" font-weight="bold" text-anchor="middle">14</text>
<text x="422.8" y="475.1" font-size="9" font-weight="bold" text-anchor="middle">Days</text>
<line x1="493.5" y1="374.7" x2="493.5" y2="456.8" stroke="#000" stroke-width="1.2" stroke-dasharray="2.6 1.5" stroke-linecap="butt"/>
<line x1="533.85" y1="374.7" x2="533.85" y2="456.8" stroke="#000" stroke-width="1.2" stroke-dasharray="2.6 1.5" stroke-linecap="butt"/>
<polyline fill="none" stroke="#b3b3b3" stroke-width="1.25" stroke-linejoin="miter" stroke-miterlimit="3" points="493.5,451.87 499.26,452.69 510.79,451.05 528.09,452.69 533.85,451.87 539.61,451.87 551.14,456.8 574.2,451.87"/>
<polyline fill="none" stroke="#b3b3b3" stroke-width="1.25" stroke-linejoin="miter" stroke-miterlimit="3" points="493.5,453.52 499.26,451.87 510.79,453.52 528.09,455.16 533.85,453.52 539.61,455.16 551.14,452.69 574.2,453.52"/>
<polyline fill="none" stroke="#b3b3b3" stroke-width="1.25" stroke-linejoin="miter" stroke-miterlimit="3" points="493.5,456.8 499.26,456.8 510.79,455.98 528.09,456.8 533.85,456.8 539.61,456.8 551.14,456.8 574.2,456.8"/>
<polyline fill="none" stroke="#b3b3b3" stroke-width="1.25" stroke-linejoin="miter" stroke-miterlimit="3" points="493.5,451.05 499.26,456.8 510.79,451.87 528.09,456.8 533.85,451.87 539.61,456.8 551.14,453.52 574.2,452.69"/>
<line x1="488.5" y1="374.1" x2="488.5" y2="457.1" stroke="#000" stroke-width="1.2" stroke-linecap="butt"/>
<line x1="487.9" y1="456.5" x2="574.8" y2="456.5" stroke="#000" stroke-width="1.2" stroke-linecap="butt"/>
<line x1="486.4" y1="456.8" x2="488.2" y2="456.8" stroke="#000" stroke-width="1.2" stroke-linecap="butt"/>
<text x="485.4" y="459.8" font-size="9" font-weight="bold" text-anchor="end">0.0</text>
<line x1="486.4" y1="440.38" x2="488.2" y2="440.38" stroke="#000" stroke-width="1.2" stroke-linecap="butt"/>
<text x="485.4" y="443.38" font-size="9" font-weight="bold" text-anchor="end">0.1</text>
<line x1="486.4" y1="423.96" x2="488.2" y2="423.96" stroke="#000" stroke-width="1.2" stroke-linecap="butt"/>
<text x="485.4" y="426.96" font-size="9" font-weight="bold" text-anchor="end">0.2</text>
<line x1="486.4" y1="407.54" x2="488.2" y2="407.54" stroke="#000" stroke-width="1.2" stroke-linecap="butt"/>
<text x="485.4" y="410.54" font-size="9" font-weight="bold" text-anchor="end">0.3</text>
<line x1="486.4" y1="391.12" x2="488.2" y2="391.12" stroke="#000" stroke-width="1.2" stroke-linecap="butt"/>
<text x="485.4" y="394.12" font-size="9" font-weight="bold" text-anchor="end">0.4</text>
<line x1="486.4" y1="374.7" x2="488.2" y2="374.7" stroke="#000" stroke-width="1.2" stroke-linecap="butt"/>
<text x="485.4" y="377.7" font-size="9" font-weight="bold" text-anchor="end">0.5</text>
<line x1="493.5" y1="456.8" x2="493.5" y2="458.6" stroke="#000" stroke-width="1.2" stroke-linecap="butt"/>
<text x="493.5" y="466.8" font-size="9" font-weight="bold" text-anchor="middle">0</text>
<line x1="505.03" y1="456.8" x2="505.03" y2="458.6" stroke="#000" stroke-width="1.2" stroke-linecap="butt"/>
<text x="505.03" y="466.8" font-size="9" font-weight="bold" text-anchor="middle">2</text>
<line x1="516.56" y1="456.8" x2="516.56" y2="458.6" stroke="#000" stroke-width="1.2" stroke-linecap="butt"/>
<text x="516.56" y="466.8" font-size="9" font-weight="bold" text-anchor="middle">4</text>
<line x1="528.09" y1="456.8" x2="528.09" y2="458.6" stroke="#000" stroke-width="1.2" stroke-linecap="butt"/>
<text x="528.09" y="466.8" font-size="9" font-weight="bold" text-anchor="middle">6</text>
<line x1="539.61" y1="456.8" x2="539.61" y2="458.6" stroke="#000" stroke-width="1.2" stroke-linecap="butt"/>
<text x="539.61" y="466.8" font-size="9" font-weight="bold" text-anchor="middle">8</text>
<line x1="551.14" y1="456.8" x2="551.14" y2="458.6" stroke="#000" stroke-width="1.2" stroke-linecap="butt"/>
<text x="551.14" y="466.8" font-size="9" font-weight="bold" text-anchor="middle">10</text>
<line x1="562.67" y1="456.8" x2="562.67" y2="458.6" stroke="#000" stroke-width="1.2" stroke-linecap="butt"/>
<text x="562.67" y="466.8" font-size="9" font-weight="bold" text-anchor="middle">12</text>
<line x1="574.2" y1="456.8" x2="574.2" y2="458.6" stroke="#000" stroke-width="1.2" stroke-linecap="butt"/>
<text x="574.2" y="466.8" font-size="9" font-weight="bold" text-anchor="middle">14</text>
<text x="530.5" y="475.1" font-size="9" font-weight="bold" text-anchor="middle">Days</text>
<text transform="translate(11.7 416.4) rotate(-90)" font-size="9" font-weight="bold" text-anchor="middle">CCL-2 (ng/mL)</text>
<rect x="610.9" y="59.44" width="8.0" height="60.76" fill="none" stroke="#000" stroke-width="1.3"/>
<circle cx="612.7" cy="59.65" r="2.45" fill="#000"/>
<circle cx="617.3" cy="59.65" r="2.45" fill="#000"/>
<rect x="625.6" y="84.04" width="8.0" height="36.16" fill="none" stroke="#000" stroke-width="1.3"/>
<circle cx="629.7" cy="76.05" r="2.45" fill="#000"/>
<circle cx="629.7" cy="80.25" r="2.45" fill="#000"/>
<circle cx="626.6" cy="89.61" r="2.45" fill="#000"/>
<circle cx="632.2" cy="89.61" r="2.45" fill="#000"/>
<line x1="629.6" y1="89.71" x2="629.6" y2="77.31" stroke="#000" stroke-width="1.2" stroke-linecap="butt"/>
<line x1="626.9" y1="89.71" x2="632.3" y2="89.71" stroke="#000" stroke-width="1.2" stroke-linecap="butt"/>
<line x1="626.9" y1="77.31" x2="632.3" y2="77.31" stroke="#000" stroke-width="1.2" stroke-linecap="butt"/>
<rect x="640.6" y="87.82" width="8.0" height="32.38" fill="none" stroke="#000" stroke-width="1.3"/>
<circle cx="642.2" cy="84.88" r="2.45" fill="#e9591f"/>
<circle cx="646.4" cy="88.45" r="2.45" fill="#e9591f"/>
<circle cx="642.4" cy="89.71" r="2.45" fill="#e9591f"/>
<line x1="644.6" y1="91.19" x2="644.6" y2="84.88" stroke="#000" stroke-width="1.2" stroke-linecap="butt"/>
<line x1="641.9" y1="91.19" x2="647.3" y2="91.19" stroke="#000" stroke-width="1.2" stroke-linecap="butt"/>
<line x1="641.9" y1="84.88" x2="647.3" y2="84.88" stroke="#000" stroke-width="1.2" stroke-linecap="butt"/>
<rect x="655.4" y="93.5" width="8.0" height="26.7" fill="none" stroke="#000" stroke-width="1.3"/>
<circle cx="657" cy="90.55" r="2.45" fill="#e9591f"/>
<circle cx="662" cy="90.55" r="2.45" fill="#e9591f"/>
<circle cx="659.5" cy="98.96" r="2.45" fill="#e9591f"/>
<circle cx="659.5" cy="95.39" r="2.45" fill="#e9591f"/>
<line x1="659.4" y1="98.12" x2="659.4" y2="88.66" stroke="#000" stroke-width="1.2" stroke-linecap="butt"/>
<line x1="656.7" y1="98.12" x2="662.1" y2="98.12" stroke="#000" stroke-width="1.2" stroke-linecap="butt"/>
<line x1="656.7" y1="88.66" x2="662.1" y2="88.66" stroke="#000" stroke-width="1.2" stroke-linecap="butt"/>
<rect x="670.2" y="100.44" width="8.0" height="19.76" fill="none" stroke="#000" stroke-width="1.3"/>
<circle cx="671.6" cy="96.23" r="2.45" fill="#b3b3b3"/>
<circle cx="676.1" cy="100.65" r="2.45" fill="#b3b3b3"/>
<circle cx="672.4" cy="101.28" r="2.45" fill="#b3b3b3"/>
<line x1="674.2" y1="102.75" x2="674.2" y2="97.49" stroke="#000" stroke-width="1.2" stroke-linecap="butt"/>
<line x1="671.5" y1="102.75" x2="676.9" y2="102.75" stroke="#000" stroke-width="1.2" stroke-linecap="butt"/>
<line x1="671.5" y1="97.49" x2="676.9" y2="97.49" stroke="#000" stroke-width="1.2" stroke-linecap="butt"/>
<line x1="604.5" y1="35.5" x2="604.5" y2="121.1" stroke="#000" stroke-width="1.2" stroke-linecap="butt"/>
<line x1="603.9" y1="120.5" x2="682.5" y2="120.5" stroke="#000" stroke-width="1.2" stroke-linecap="butt"/>
<line x1="602.7" y1="120.2" x2="604.5" y2="120.2" stroke="#000" stroke-width="1.2" stroke-linecap="butt"/>
<text x="601.7" y="123.2" font-size="9" font-weight="bold" text-anchor="end">0</text>
<line x1="602.7" y1="99.18" x2="604.5" y2="99.18" stroke="#000" stroke-width="1.2" stroke-linecap="butt"/>
<text x="601.7" y="102.18" font-size="9" font-weight="bold" text-anchor="end">100</text>
<line x1="602.7" y1="78.15" x2="604.5" y2="78.15" stroke="#000" stroke-width="1.2" stroke-linecap="butt"/>
<text x="601.7" y="81.15" font-size="9" font-weight="bold" text-anchor="end">200</text>
<line x1="602.7" y1="57.12" x2="604.5" y2="57.12" stroke="#000" stroke-width="1.2" stroke-linecap="butt"/>
<text x="601.7" y="60.12" font-size="9" font-weight="bold" text-anchor="end">300</text>
<line x1="602.7" y1="36.1" x2="604.5" y2="36.1" stroke="#000" stroke-width="1.2" stroke-linecap="butt"/>
<text x="601.7" y="39.1" font-size="9" font-weight="bold" text-anchor="end">400</text>
<line x1="614.9" y1="120.2" x2="614.9" y2="122" stroke="#000" stroke-width="1.2" stroke-linecap="butt"/>
<line x1="629.6" y1="120.2" x2="629.6" y2="122" stroke="#000" stroke-width="1.2" stroke-linecap="butt"/>
<line x1="644.6" y1="120.2" x2="644.6" y2="122" stroke="#000" stroke-width="1.2" stroke-linecap="butt"/>
<line x1="659.4" y1="120.2" x2="659.4" y2="122" stroke="#000" stroke-width="1.2" stroke-linecap="butt"/>
<line x1="674.2" y1="120.2" x2="674.2" y2="122" stroke="#000" stroke-width="1.2" stroke-linecap="butt"/>
<text transform="translate(582.4 77.2) rotate(-90)" font-size="9" font-weight="bold" text-anchor="middle">Spleen weight (mg)</text>
<text x="631.2" y="47.5" font-size="9" font-weight="normal" text-anchor="middle" font-style="italic">p=0.0001</text>
<line x1="616.2" y1="49.9" x2="645.2" y2="49.9" stroke="#000" stroke-width="0.9" stroke-linecap="butt"/>
<rect x="612.5" y="184.82" width="8.0" height="41.38" fill="none" stroke="#000" stroke-width="1.3"/>
<circle cx="616.6" cy="161.35" r="2.45" fill="#000"/>
<circle cx="616.6" cy="183.28" r="2.45" fill="#000"/>
<circle cx="619.1" cy="195.32" r="2.45" fill="#000"/>
<circle cx="614.2" cy="198.41" r="2.45" fill="#000"/>
<line x1="616.5" y1="201.8" x2="616.5" y2="167.53" stroke="#000" stroke-width="1.2" stroke-linecap="butt"/>
<line x1="613.8" y1="201.8" x2="619.2" y2="201.8" stroke="#000" stroke-width="1.2" stroke-linecap="butt"/>
<line x1="613.8" y1="167.53" x2="619.2" y2="167.53" stroke="#000" stroke-width="1.2" stroke-linecap="butt"/>
<rect x="626.9" y="221.57" width="8.0" height="4.63" fill="none" stroke="#000" stroke-width="1.3"/>
<circle cx="628.3" cy="217.24" r="2.45" fill="#000"/>
<circle cx="631.7" cy="219.72" r="2.45" fill="#000"/>
<circle cx="633.7" cy="222.19" r="2.45" fill="#000"/>
<circle cx="628.3" cy="224.35" r="2.45" fill="#000"/>
<line x1="630.9" y1="224.35" x2="630.9" y2="218.79" stroke="#000" stroke-width="1.2" stroke-linecap="butt"/>
<line x1="628.2" y1="224.35" x2="633.6" y2="224.35" stroke="#000" stroke-width="1.2" stroke-linecap="butt"/>
<line x1="628.2" y1="218.79" x2="633.6" y2="218.79" stroke="#000" stroke-width="1.2" stroke-linecap="butt"/>
<rect x="641.4" y="223.73" width="8.0" height="2.47" fill="none" stroke="#000" stroke-width="1.3"/>
<circle cx="642.4" cy="223.11" r="2.45" fill="#e9591f"/>
<circle cx="648.4" cy="222.8" r="2.45" fill="#e9591f"/>
<circle cx="645.4" cy="224.66" r="2.45" fill="#e9591f"/>
<circle cx="643.4" cy="225.27" r="2.45" fill="#e9591f"/>
<line x1="645.4" y1="225.27" x2="645.4" y2="221.88" stroke="#000" stroke-width="1.2" stroke-linecap="butt"/>
<line x1="642.7" y1="225.27" x2="648.1" y2="225.27" stroke="#000" stroke-width="1.2" stroke-linecap="butt"/>
<line x1="642.7" y1="221.88" x2="648.1" y2="221.88" stroke="#000" stroke-width="1.2" stroke-linecap="butt"/>
<rect x="655.9" y="224.66" width="8.0" height="1.54" fill="none" stroke="#000" stroke-width="1.3"/>
<circle cx="656.9" cy="225.27" r="2.45" fill="#e9591f"/>
<circle cx="662.9" cy="223.42" r="2.45" fill="#e9591f"/>
<circle cx="659.9" cy="222.49" r="2.45" fill="#e9591f"/>
<circle cx="658.9" cy="226.2" r="2.45" fill="#e9591f"/>
<line x1="659.9" y1="226.2" x2="659.9" y2="222.8" stroke="#000" stroke-width="1.2" stroke-linecap="butt"/>
<line x1="657.2" y1="226.2" x2="662.6" y2="226.2" stroke="#000" stroke-width="1.2" stroke-linecap="butt"/>
<line x1="657.2" y1="222.8" x2="662.6" y2="222.8" stroke="#000" stroke-width="1.2" stroke-linecap="butt"/>
<circle cx="671.8" cy="226.2" r="2.45" fill="#b3b3b3"/>
<circle cx="674.4" cy="226.2" r="2.45" fill="#b3b3b3"/>
<circle cx="676.8" cy="226.2" r="2.45" fill="#b3b3b3"/>
<line x1="605.5" y1="148.4" x2="605.5" y2="227.1" stroke="#000" stroke-width="1.2" stroke-linecap="butt"/>
<line x1="604.9" y1="226.5" x2="684" y2="226.5" stroke="#000" stroke-width="1.2" stroke-linecap="butt"/>
<line x1="603.7" y1="226.2" x2="605.5" y2="226.2" stroke="#000" stroke-width="1.2" stroke-linecap="butt"/>
<text x="602.7" y="229.2" font-size="9" font-weight="bold" text-anchor="end">0</text>
<line x1="603.7" y1="210.76" x2="605.5" y2="210.76" stroke="#000" stroke-width="1.2" stroke-linecap="butt"/>
<text x="602.7" y="213.76" font-size="9" font-weight="bold" text-anchor="end">5</text>
<line x1="603.7" y1="195.32" x2="605.5" y2="195.32" stroke="#000" stroke-width="1.2" stroke-linecap="butt"/>
<text x="602.7" y="198.32" font-size="9" font-weight="bold" text-anchor="end">10</text>
<line x1="603.7" y1="179.88" x2="605.5" y2="179.88" stroke="#000" stroke-width="1.2" stroke-linecap="butt"/>
<text x="602.7" y="182.88" font-size="9" font-weight="bold" text-anchor="end">15</text>
<line x1="603.7" y1="164.44" x2="605.5" y2="164.44" stroke="#000" stroke-width="1.2" stroke-linecap="butt"/>
<text x="602.7" y="167.44" font-size="9" font-weight="bold" text-anchor="end">20</text>
<line x1="603.7" y1="149" x2="605.5" y2="149" stroke="#000" stroke-width="1.2" stroke-linecap="butt"/>
<text x="602.7" y="152" font-size="9" font-weight="bold" text-anchor="end">25</text>
<line x1="616.5" y1="226.2" x2="616.5" y2="228" stroke="#000" stroke-width="1.2" stroke-linecap="butt"/>
<line x1="630.9" y1="226.2" x2="630.9" y2="228" stroke="#000" stroke-width="1.2" stroke-linecap="butt"/>
<line x1="645.4" y1="226.2" x2="645.4" y2="228" stroke="#000" stroke-width="1.2" stroke-linecap="butt"/>
<line x1="659.9" y1="226.2" x2="659.9" y2="228" stroke="#000" stroke-width="1.2" stroke-linecap="butt"/>
<line x1="674.4" y1="226.2" x2="674.4" y2="228" stroke="#000" stroke-width="1.2" stroke-linecap="butt"/>
<text transform="translate(585.8 186.9) rotate(-90)" font-size="8.9" font-weight="bold" text-anchor="middle">AUC (ng/mL*day)</text>
<text x="638" y="141" font-size="9" font-weight="bold" text-anchor="middle">AUC IL-12</text>
<text x="631.7" y="152.7" font-size="9" font-weight="normal" text-anchor="middle" font-style="italic">p=0.0037</text>
<line x1="616.5" y1="155.7" x2="645.5" y2="155.7" stroke="#000" stroke-width="0.9" stroke-linecap="butt"/>
<rect x="613.2" y="301.31" width="8.0" height="41.89" fill="none" stroke="#000" stroke-width="1.3"/>
<circle cx="617.6" cy="279.99" r="2.45" fill="#000"/>
<circle cx="615.6" cy="305.51" r="2.45" fill="#000"/>
<circle cx="619.8" cy="307.11" r="2.45" fill="#000"/>
<circle cx="616" cy="309.7" r="2.45" fill="#000"/>
<line x1="617.2" y1="315.01" x2="617.2" y2="286.7" stroke="#000" stroke-width="1.2" stroke-linecap="butt"/>
<line x1="614.5" y1="315.01" x2="619.9" y2="315.01" stroke="#000" stroke-width="1.2" stroke-linecap="butt"/>
<line x1="614.5" y1="286.7" x2="619.9" y2="286.7" stroke="#000" stroke-width="1.2" stroke-linecap="butt"/>
<rect x="627.3" y="327.29" width="8.0" height="15.91" fill="none" stroke="#000" stroke-width="1.3"/>
<circle cx="628.9" cy="323.09" r="2.45" fill="#000"/>
<circle cx="633.6" cy="321.91" r="2.45" fill="#000"/>
<circle cx="631.4" cy="327.29" r="2.45" fill="#000"/>
<circle cx="631.4" cy="335.68" r="2.45" fill="#000"/>
<line x1="631.3" y1="332.29" x2="631.3" y2="323.4" stroke="#000" stroke-width="1.2" stroke-linecap="butt"/>
<line x1="628.6" y1="332.29" x2="634" y2="332.29" stroke="#000" stroke-width="1.2" stroke-linecap="butt"/>
<line x1="628.6" y1="323.4" x2="634" y2="323.4" stroke="#000" stroke-width="1.2" stroke-linecap="butt"/>
<rect x="641.7" y="332.02" width="8.0" height="11.18" fill="none" stroke="#000" stroke-width="1.3"/>
<circle cx="647.7" cy="327.6" r="2.45" fill="#e9591f"/>
<circle cx="643.5" cy="333.2" r="2.45" fill="#e9591f"/>
<circle cx="646" cy="331.22" r="2.45" fill="#e9591f"/>
<line x1="645.7" y1="334.81" x2="645.7" y2="328.51" stroke="#000" stroke-width="1.2" stroke-linecap="butt"/>
<line x1="643" y1="334.81" x2="648.4" y2="334.81" stroke="#000" stroke-width="1.2" stroke-linecap="butt"/>
<line x1="643" y1="328.51" x2="648.4" y2="328.51" stroke="#000" stroke-width="1.2" stroke-linecap="butt"/>
<rect x="656" y="339.88" width="8.0" height="3.32" fill="none" stroke="#000" stroke-width="1.3"/>
<circle cx="661.7" cy="335.42" r="2.45" fill="#e9591f"/>
<circle cx="657.5" cy="340.68" r="2.45" fill="#e9591f"/>
<circle cx="660" cy="338.7" r="2.45" fill="#e9591f"/>
<line x1="660" y1="342.4" x2="660" y2="336.22" stroke="#000" stroke-width="1.2" stroke-linecap="butt"/>
<line x1="657.3" y1="342.4" x2="662.7" y2="342.4" stroke="#000" stroke-width="1.2" stroke-linecap="butt"/>
<line x1="657.3" y1="336.22" x2="662.7" y2="336.22" stroke="#000" stroke-width="1.2" stroke-linecap="butt"/>
<circle cx="671.8" cy="343.2" r="2.45" fill="#b3b3b3"/>
<circle cx="674.4" cy="343.2" r="2.45" fill="#b3b3b3"/>
<circle cx="676.8" cy="343.2" r="2.45" fill="#b3b3b3"/>
<line x1="607.5" y1="266.3" x2="607.5" y2="344.1" stroke="#000" stroke-width="1.2" stroke-linecap="butt"/>
<line x1="606.9" y1="343.5" x2="684" y2="343.5" stroke="#000" stroke-width="1.2" stroke-linecap="butt"/>
<line x1="605.7" y1="343.2" x2="607.5" y2="343.2" stroke="#000" stroke-width="1.2" stroke-linecap="butt"/>
<text x="604.7" y="346.2" font-size="9" font-weight="bold" text-anchor="end">0</text>
<line x1="605.7" y1="324.12" x2="607.5" y2="324.12" stroke="#000" stroke-width="1.2" stroke-linecap="butt"/>
<text x="604.7" y="327.12" font-size="9" font-weight="bold" text-anchor="end">500</text>
<line x1="605.7" y1="305.05" x2="607.5" y2="305.05" stroke="#000" stroke-width="1.2" stroke-linecap="butt"/>
<text x="604.7" y="308.05" font-size="9" font-weight="bold" text-anchor="end">1000</text>
<line x1="605.7" y1="285.97" x2="607.5" y2="285.97" stroke="#000" stroke-width="1.2" stroke-linecap="butt"/>
<text x="604.7" y="288.97" font-size="9" font-weight="bold" text-anchor="end">1500</text>
<line x1="605.7" y1="266.9" x2="607.5" y2="266.9" stroke="#000" stroke-width="1.2" stroke-linecap="butt"/>
<text x="604.7" y="269.9" font-size="9" font-weight="bold" text-anchor="end">2000</text>
<line x1="617.2" y1="343.2" x2="617.2" y2="345" stroke="#000" stroke-width="1.2" stroke-linecap="butt"/>
<line x1="631.3" y1="343.2" x2="631.3" y2="345" stroke="#000" stroke-width="1.2" stroke-linecap="butt"/>
<line x1="645.7" y1="343.2" x2="645.7" y2="345" stroke="#000" stroke-width="1.2" stroke-linecap="butt"/>
<line x1="660" y1="343.2" x2="660" y2="345" stroke="#000" stroke-width="1.2" stroke-linecap="butt"/>
<line x1="674.4" y1="343.2" x2="674.4" y2="345" stroke="#000" stroke-width="1.2" stroke-linecap="butt"/>
<text transform="translate(580.2 302.3) rotate(-90)" font-size="8.9" font-weight="bold" text-anchor="middle">AUC (ng/mL*day)</text>
<text x="640.8" y="258.1" font-size="9" font-weight="bold" text-anchor="middle">AUC IFNγ</text>
<text x="632.8" y="270.2" font-size="9" font-weight="normal" text-anchor="middle" font-style="italic">p=0.0053</text>
<line x1="617" y1="271.9" x2="646.9" y2="271.9" stroke="#000" stroke-width="0.9" stroke-linecap="butt"/>
<text x="648.1" y="284" font-size="9" font-weight="normal" text-anchor="middle" font-style="italic">p=0.0121</text>
<line x1="631.8" y1="286.2" x2="661.2" y2="286.2" stroke="#000" stroke-width="0.9" stroke-linecap="butt"/>
<rect x="612" y="413.81" width="8.0" height="43.59" fill="none" stroke="#000" stroke-width="1.3"/>
<circle cx="616.1" cy="400.05" r="2.45" fill="#000"/>
<circle cx="612.7" cy="406.64" r="2.45" fill="#000"/>
<circle cx="618.3" cy="411.29" r="2.45" fill="#000"/>
<circle cx="615.3" cy="437.02" r="2.45" fill="#000"/>
<line x1="616" y1="429.19" x2="616" y2="397.8" stroke="#000" stroke-width="1.2" stroke-linecap="butt"/>
<line x1="613.3" y1="429.19" x2="618.7" y2="429.19" stroke="#000" stroke-width="1.2" stroke-linecap="butt"/>
<line x1="613.3" y1="397.8" x2="618.7" y2="397.8" stroke="#000" stroke-width="1.2" stroke-linecap="butt"/>
<rect x="626.8" y="425.04" width="8.0" height="32.36" fill="none" stroke="#000" stroke-width="1.3"/>
<circle cx="628.2" cy="413.5" r="2.45" fill="#000"/>
<circle cx="633.3" cy="413.5" r="2.45" fill="#000"/>
<circle cx="630.6" cy="422.21" r="2.45" fill="#000"/>
<circle cx="630.6" cy="449.88" r="2.45" fill="#000"/>
<line x1="630.8" y1="442.02" x2="630.8" y2="407.61" stroke="#000" stroke-width="1.2" stroke-linecap="butt"/>
<line x1="628.1" y1="442.02" x2="633.5" y2="442.02" stroke="#000" stroke-width="1.2" stroke-linecap="butt"/>
<line x1="628.1" y1="407.61" x2="633.5" y2="407.61" stroke="#000" stroke-width="1.2" stroke-linecap="butt"/>
<rect x="641.5" y="436.09" width="8.0" height="21.31" fill="none" stroke="#000" stroke-width="1.3"/>
<circle cx="647.8" cy="431.82" r="2.45" fill="#e9591f"/>
<circle cx="643.1" cy="433.38" r="2.45" fill="#e9591f"/>
<circle cx="643.6" cy="438.99" r="2.45" fill="#e9591f"/>
<line x1="645.5" y1="440.58" x2="645.5" y2="432.29" stroke="#000" stroke-width="1.2" stroke-linecap="butt"/>
<line x1="642.8" y1="440.58" x2="648.2" y2="440.58" stroke="#000" stroke-width="1.2" stroke-linecap="butt"/>
<line x1="642.8" y1="432.29" x2="648.2" y2="432.29" stroke="#000" stroke-width="1.2" stroke-linecap="butt"/>
<rect x="656.2" y="446.16" width="8.0" height="11.24" fill="none" stroke="#000" stroke-width="1.3"/>
<circle cx="660.1" cy="437.02" r="2.45" fill="#e9591f"/>
<circle cx="657.1" cy="446.51" r="2.45" fill="#e9591f"/>
<circle cx="661.8" cy="447.4" r="2.45" fill="#e9591f"/>
<circle cx="660.1" cy="453.72" r="2.45" fill="#e9591f"/>
<line x1="660.2" y1="453.21" x2="660.2" y2="438.61" stroke="#000" stroke-width="1.2" stroke-linecap="butt"/>
<line x1="657.5" y1="453.21" x2="662.9" y2="453.21" stroke="#000" stroke-width="1.2" stroke-linecap="butt"/>
<line x1="657.5" y1="438.61" x2="662.9" y2="438.61" stroke="#000" stroke-width="1.2" stroke-linecap="butt"/>
<rect x="671" y="450.23" width="8.0" height="7.17" fill="none" stroke="#000" stroke-width="1.3"/>
<circle cx="677.4" cy="445.19" r="2.45" fill="#b3b3b3"/>
<circle cx="674" cy="450.81" r="2.45" fill="#b3b3b3"/>
<circle cx="675.5" cy="452.75" r="2.45" fill="#b3b3b3"/>
<line x1="675" y1="453.6" x2="675" y2="446.2" stroke="#000" stroke-width="1.2" stroke-linecap="butt"/>
<line x1="672.3" y1="453.6" x2="677.7" y2="453.6" stroke="#000" stroke-width="1.2" stroke-linecap="butt"/>
<line x1="672.3" y1="446.2" x2="677.7" y2="446.2" stroke="#000" stroke-width="1.2" stroke-linecap="butt"/>
<line x1="606.5" y1="379.3" x2="606.5" y2="458.1" stroke="#000" stroke-width="1.2" stroke-linecap="butt"/>
<line x1="605.9" y1="457.5" x2="684" y2="457.5" stroke="#000" stroke-width="1.2" stroke-linecap="butt"/>
<line x1="604.7" y1="457.4" x2="606.5" y2="457.4" stroke="#000" stroke-width="1.2" stroke-linecap="butt"/>
<text x="603.7" y="460.4" font-size="9" font-weight="bold" text-anchor="end">0.0</text>
<line x1="604.7" y1="438.02" x2="606.5" y2="438.02" stroke="#000" stroke-width="1.2" stroke-linecap="butt"/>
<text x="603.7" y="441.02" font-size="9" font-weight="bold" text-anchor="end">0.5</text>
<line x1="604.7" y1="418.65" x2="606.5" y2="418.65" stroke="#000" stroke-width="1.2" stroke-linecap="butt"/>
<text x="603.7" y="421.65" font-size="9" font-weight="bold" text-anchor="end">1.0</text>
<line x1="604.7" y1="399.27" x2="606.5" y2="399.27" stroke="#000" stroke-width="1.2" stroke-linecap="butt"/>
<text x="603.7" y="402.27" font-size="9" font-weight="bold" text-anchor="end">1.5</text>
<line x1="604.7" y1="379.9" x2="606.5" y2="379.9" stroke="#000" stroke-width="1.2" stroke-linecap="butt"/>
<text x="603.7" y="382.9" font-size="9" font-weight="bold" text-anchor="end">2.0</text>
<line x1="616" y1="457.4" x2="616" y2="459.2" stroke="#000" stroke-width="1.2" stroke-linecap="butt"/>
<line x1="630.8" y1="457.4" x2="630.8" y2="459.2" stroke="#000" stroke-width="1.2" stroke-linecap="butt"/>
<line x1="645.5" y1="457.4" x2="645.5" y2="459.2" stroke="#000" stroke-width="1.2" stroke-linecap="butt"/>
<line x1="660.2" y1="457.4" x2="660.2" y2="459.2" stroke="#000" stroke-width="1.2" stroke-linecap="butt"/>
<line x1="675" y1="457.4" x2="675" y2="459.2" stroke="#000" stroke-width="1.2" stroke-linecap="butt"/>
<text transform="translate(585.8 415.7) rotate(-90)" font-size="8.9" font-weight="bold" text-anchor="middle">AUC (ng/mL*day)</text>
<text x="638.5" y="372.7" font-size="9" font-weight="bold" text-anchor="middle">AUC CCL-2</text>
<text x="631.7" y="387.8" font-size="9" font-weight="normal" text-anchor="middle" font-style="italic">p=0.0372</text>
<line x1="617" y1="390.3" x2="645.5" y2="390.3" stroke="#000" stroke-width="0.9" stroke-linecap="butt"/>
<text transform="translate(621.6 465.3) rotate(-45)" font-size="9.1" font-weight="bold" text-anchor="end">rmIL-12 5 µg</text>
<text transform="translate(636.4 465.3) rotate(-45)" font-size="9.1" font-weight="bold" text-anchor="end">rmIL-12 1 µg</text>
<text transform="translate(651.1 465.3) rotate(-45)" font-size="9.1" font-weight="bold" text-anchor="end">mIL-12hFc NHQ 5 µg</text>
<text transform="translate(665.8 465.3) rotate(-45)" font-size="9.1" font-weight="bold" text-anchor="end">mIL-12hFc NHQ 1 µg</text>
<text transform="translate(680.6 465.3) rotate(-45)" font-size="9.1" font-weight="bold" text-anchor="end">control</text>
<rect x="307.6" y="538.3" width="263.2" height="309.1" fill="#59156c"/>
<rect x="399.72" y="553.02" width="13.16" height="14.72" fill="#27b493"/>
<rect x="557.64" y="553.02" width="13.16" height="14.72" fill="#535c9e"/>
<rect x="333.92" y="567.74" width="13.16" height="14.72" fill="#348ba6"/>
<rect x="307.6" y="582.46" width="13.16" height="14.72" fill="#348ba6"/>
<rect x="360.24" y="582.46" width="26.32" height="14.72" fill="#348ba6"/>
<rect x="412.88" y="582.46" width="13.16" height="14.72" fill="#348ba6"/>
<rect x="478.68" y="582.46" width="13.16" height="14.72" fill="#348ba6"/>
<rect x="307.6" y="597.18" width="13.16" height="14.72" fill="#348ba6"/>
<rect x="360.24" y="597.18" width="13.16" height="14.72" fill="#348ba6"/>
<rect x="412.88" y="597.18" width="13.16" height="14.72" fill="#348ba6"/>
<rect x="491.84" y="611.9" width="13.16" height="14.72" fill="#535c9e"/>
<rect x="544.48" y="611.9" width="13.16" height="14.72" fill="#535c9e"/>
<rect x="307.6" y="626.61" width="13.16" height="14.72" fill="#5b3d90"/>
<rect x="333.92" y="626.61" width="13.16" height="14.72" fill="#5b3d90"/>
<rect x="386.56" y="626.61" width="13.16" height="14.72" fill="#5b3d90"/>
<rect x="412.88" y="626.61" width="26.32" height="14.72" fill="#5b3d90"/>
<rect x="465.52" y="626.61" width="13.16" height="14.72" fill="#5b3d90"/>
<rect x="491.84" y="626.61" width="39.48" height="14.72" fill="#5b3d90"/>
<rect x="544.48" y="626.61" width="13.16" height="14.72" fill="#5b3d90"/>
<rect x="452.36" y="641.33" width="13.16" height="14.72" fill="#535c9e"/>
<rect x="307.6" y="656.05" width="26.32" height="14.72" fill="#fde72e"/>
<rect x="491.84" y="656.05" width="13.16" height="14.72" fill="#348ba6"/>
<rect x="307.6" y="670.77" width="13.16" height="14.72" fill="#348ba6"/>
<rect x="320.76" y="670.77" width="26.32" height="14.72" fill="#8cd862"/>
<rect x="347.08" y="670.77" width="13.16" height="14.72" fill="#535c9e"/>
<rect x="373.4" y="670.77" width="13.16" height="14.72" fill="#27b493"/>
<rect x="399.72" y="670.77" width="13.16" height="14.72" fill="#348ba6"/>
<rect x="439.2" y="670.77" width="13.16" height="14.72" fill="#348ba6"/>
<rect x="465.52" y="670.77" width="13.16" height="14.72" fill="#348ba6"/>
<rect x="307.6" y="685.49" width="39.48" height="14.72" fill="#fde72e"/>
<rect x="307.6" y="700.21" width="13.16" height="14.72" fill="#348ba6"/>
<rect x="373.4" y="700.21" width="13.16" height="14.72" fill="#fde72e"/>
<rect x="307.6" y="714.93" width="39.48" height="14.72" fill="#535c9e"/>
<rect x="360.24" y="714.93" width="13.16" height="14.72" fill="#535c9e"/>
<rect x="373.4" y="714.93" width="13.16" height="14.72" fill="#5a2b80"/>
<rect x="386.56" y="714.93" width="26.32" height="14.72" fill="#535c9e"/>
<rect x="426.04" y="714.93" width="39.48" height="14.72" fill="#535c9e"/>
<rect x="478.68" y="714.93" width="13.16" height="14.72" fill="#5a2b80"/>
<rect x="491.84" y="714.93" width="13.16" height="14.72" fill="#535c9e"/>
<rect x="505" y="714.93" width="13.16" height="14.72" fill="#5a2b80"/>
<rect x="557.64" y="714.93" width="13.16" height="14.72" fill="#535c9e"/>
<rect x="333.92" y="729.65" width="13.16" height="14.72" fill="#591e74"/>
<rect x="360.24" y="729.65" width="13.16" height="14.72" fill="#4a68a5"/>
<rect x="386.56" y="729.65" width="26.32" height="14.72" fill="#4a68a5"/>
<rect x="439.2" y="729.65" width="13.16" height="14.72" fill="#4a68a5"/>
<rect x="544.48" y="729.65" width="13.16" height="14.72" fill="#591e74"/>
<rect x="557.64" y="729.65" width="13.16" height="14.72" fill="#4a68a5"/>
<rect x="333.92" y="744.37" width="13.16" height="14.72" fill="#fde72e"/>
<rect x="386.56" y="759.09" width="13.16" height="14.72" fill="#fde72e"/>
<rect x="307.6" y="773.8" width="13.16" height="14.72" fill="#4a68a5"/>
<rect x="333.92" y="773.8" width="13.16" height="14.72" fill="#5b3d90"/>
<rect x="360.24" y="773.8" width="13.16" height="14.72" fill="#584d98"/>
<rect x="412.88" y="773.8" width="13.16" height="14.72" fill="#4a68a5"/>
<rect x="426.04" y="773.8" width="13.16" height="14.72" fill="#591e74"/>
<rect x="452.36" y="773.8" width="26.32" height="14.72" fill="#591e74"/>
<rect x="531.32" y="773.8" width="13.16" height="14.72" fill="#591e74"/>
<rect x="544.48" y="773.8" width="13.16" height="14.72" fill="#4a68a5"/>
<rect x="320.76" y="788.52" width="13.16" height="14.72" fill="#5a2b80"/>
<rect x="333.92" y="788.52" width="13.16" height="14.72" fill="#535c9e"/>
<rect x="360.24" y="788.52" width="13.16" height="14.72" fill="#535c9e"/>
<rect x="386.56" y="788.52" width="13.16" height="14.72" fill="#348ba6"/>
<rect x="412.88" y="788.52" width="13.16" height="14.72" fill="#5a2b80"/>
<rect x="426.04" y="788.52" width="13.16" height="14.72" fill="#2a9aa0"/>
<rect x="439.2" y="788.52" width="26.32" height="14.72" fill="#535c9e"/>
<rect x="478.68" y="788.52" width="13.16" height="14.72" fill="#2a9aa0"/>
<rect x="491.84" y="788.52" width="13.16" height="14.72" fill="#535c9e"/>
<rect x="531.32" y="788.52" width="13.16" height="14.72" fill="#535c9e"/>
<rect x="307.6" y="803.24" width="13.16" height="14.72" fill="#5b3d90"/>
<rect x="333.92" y="803.24" width="13.16" height="14.72" fill="#5b3d90"/>
<rect x="347.08" y="803.24" width="26.32" height="14.72" fill="#5a2b80"/>
<rect x="386.56" y="803.24" width="13.16" height="14.72" fill="#5a2b80"/>
<rect x="399.72" y="803.24" width="13.16" height="14.72" fill="#5b3d90"/>
<rect x="412.88" y="803.24" width="13.16" height="14.72" fill="#5a2b80"/>
<rect x="426.04" y="803.24" width="13.16" height="14.72" fill="#5b3d90"/>
<rect x="491.84" y="803.24" width="13.16" height="14.72" fill="#5a2b80"/>
<rect x="505" y="803.24" width="13.16" height="14.72" fill="#5b3d90"/>
<rect x="531.32" y="803.24" width="13.16" height="14.72" fill="#5b3d90"/>
<rect x="307.6" y="817.96" width="26.32" height="14.72" fill="#5a2b80"/>
<rect x="333.92" y="817.96" width="13.16" height="14.72" fill="#5b3d90"/>
<rect x="347.08" y="817.96" width="26.32" height="14.72" fill="#5a2b80"/>
<rect x="386.56" y="817.96" width="13.16" height="14.72" fill="#5a2b80"/>
<rect x="412.88" y="817.96" width="13.16" height="14.72" fill="#5a2b80"/>
<rect x="452.36" y="817.96" width="13.16" height="14.72" fill="#5a2b80"/>
<rect x="491.84" y="817.96" width="13.16" height="14.72" fill="#5a2b80"/>
<rect x="531.32" y="817.96" width="13.16" height="14.72" fill="#5a2b80"/>
<rect x="333.92" y="832.68" width="13.16" height="14.72" fill="#584d98"/>
<rect x="360.24" y="832.68" width="26.32" height="14.72" fill="#584d98"/>
<rect x="426.04" y="832.68" width="13.16" height="14.72" fill="#5b3d90"/>
<rect x="452.36" y="832.68" width="13.16" height="14.72" fill="#5b3d90"/>
<rect x="491.84" y="832.68" width="26.32" height="14.72" fill="#5b3d90"/>
<rect x="544.48" y="832.68" width="13.16" height="14.72" fill="#5b3d90"/>
<path d="M320.76 538.3V847.4M333.92 538.3V847.4M347.08 538.3V847.4M373.4 538.3V847.4M386.56 538.3V847.4M399.72 538.3V847.4M426.04 538.3V847.4M439.2 538.3V847.4M452.36 538.3V847.4M478.68 538.3V847.4M491.84 538.3V847.4M505 538.3V847.4M531.32 538.3V847.4M544.48 538.3V847.4M557.64 538.3V847.4M307.6 582.46H570.8M307.6 597.18H570.8M307.6 626.61H570.8M307.6 641.33H570.8M307.6 656.05H570.8M307.6 685.49H570.8M307.6 700.21H570.8M307.6 729.65H570.8M307.6 744.37H570.8M307.6 759.09H570.8M307.6 788.52H570.8M307.6 803.24H570.8M307.6 817.96H570.8M307.6 832.68H570.8" stroke="#fff" stroke-opacity="0.36" stroke-width="0.75" fill="none"/>
<line x1="84.3" y1="538.3" x2="571.5" y2="538.3" stroke="#000" stroke-width="1.3" stroke-linecap="butt"/>
<line x1="84.3" y1="553.02" x2="571.5" y2="553.02" stroke="#000" stroke-width="1.3" stroke-linecap="butt"/>
<line x1="84.3" y1="567.74" x2="571.5" y2="567.74" stroke="#000" stroke-width="1.3" stroke-linecap="butt"/>
<line x1="84.3" y1="611.9" x2="571.5" y2="611.9" stroke="#000" stroke-width="1.3" stroke-linecap="butt"/>
<line x1="84.3" y1="670.77" x2="571.5" y2="670.77" stroke="#000" stroke-width="1.3" stroke-linecap="butt"/>
<line x1="84.3" y1="714.93" x2="571.5" y2="714.93" stroke="#000" stroke-width="1.3" stroke-linecap="butt"/>
<line x1="84.3" y1="773.8" x2="571.5" y2="773.8" stroke="#000" stroke-width="1.3" stroke-linecap="butt"/>
<line x1="84.3" y1="847.4" x2="571.5" y2="847.4" stroke="#000" stroke-width="1.3" stroke-linecap="butt"/>
<line x1="307.6" y1="491" x2="307.6" y2="848" stroke="#000" stroke-width="1.5" stroke-linecap="butt"/>
<line x1="360.24" y1="491" x2="360.24" y2="848" stroke="#000" stroke-width="1.5" stroke-linecap="butt"/>
<line x1="412.88" y1="491" x2="412.88" y2="848" stroke="#000" stroke-width="1.5" stroke-linecap="butt"/>
<line x1="465.52" y1="491" x2="465.52" y2="848" stroke="#000" stroke-width="1.5" stroke-linecap="butt"/>
<line x1="518.16" y1="491" x2="518.16" y2="848" stroke="#000" stroke-width="1.5" stroke-linecap="butt"/>
<line x1="570.8" y1="491" x2="570.8" y2="848" stroke="#000" stroke-width="1.5" stroke-linecap="butt"/>
<text x="332.72" y="501.7" font-size="9" font-weight="bold" text-anchor="middle">rmIL-12</text>
<text x="332.82" y="522.3" font-size="9" font-weight="bold" text-anchor="middle">5 µg</text>
<text x="315.2" y="534.3" font-size="9" font-weight="bold" text-anchor="middle">M</text>
<text x="329.6" y="534.3" font-size="9" font-weight="bold" text-anchor="middle">M</text>
<text x="342.7" y="534.3" font-size="9" font-weight="bold" text-anchor="middle">F</text>
<text x="354.3" y="534.3" font-size="9" font-weight="bold" text-anchor="middle">F</text>
<text x="388.16" y="501.7" font-size="9" font-weight="bold" text-anchor="middle">rmIL-12</text>
<text x="386.16" y="522.3" font-size="9" font-weight="bold" text-anchor="middle">1 µg</text>
<text x="367.84" y="534.3" font-size="9" font-weight="bold" text-anchor="middle">M</text>
<text x="382.24" y="534.3" font-size="9" font-weight="bold" text-anchor="middle">M</text>
<text x="395.34" y="534.3" font-size="9" font-weight="bold" text-anchor="middle">F</text>
<text x="406.94" y="534.3" font-size="9" font-weight="bold" text-anchor="middle">F</text>
<text x="439" y="501.7" font-size="9" font-weight="bold" text-anchor="middle">mIL-12hFc</text>
<text x="439" y="513" font-size="9" font-weight="bold" text-anchor="middle">NHQ</text>
<text x="439.4" y="522.3" font-size="9" font-weight="bold" text-anchor="middle">5 µg</text>
<text x="420.48" y="534.3" font-size="9" font-weight="bold" text-anchor="middle">M</text>
<text x="434.88" y="534.3" font-size="9" font-weight="bold" text-anchor="middle">M</text>
<text x="447.98" y="534.3" font-size="9" font-weight="bold" text-anchor="middle">F</text>
<text x="459.58" y="534.3" font-size="9" font-weight="bold" text-anchor="middle">F</text>
<text x="491.54" y="501.7" font-size="9" font-weight="bold" text-anchor="middle">mIL-12hFc</text>
<text x="491.54" y="513" font-size="9" font-weight="bold" text-anchor="middle">NHQ</text>
<text x="488.64" y="522.3" font-size="9" font-weight="bold" text-anchor="middle">1 µg</text>
<text x="473.12" y="534.3" font-size="9" font-weight="bold" text-anchor="middle">M</text>
<text x="487.52" y="534.3" font-size="9" font-weight="bold" text-anchor="middle">M</text>
<text x="500.62" y="534.3" font-size="9" font-weight="bold" text-anchor="middle">F</text>
<text x="512.22" y="534.3" font-size="9" font-weight="bold" text-anchor="middle">F</text>
<text x="541.98" y="501.7" font-size="9" font-weight="bold" text-anchor="middle">control</text>
<text x="525.76" y="534.3" font-size="9" font-weight="bold" text-anchor="middle">M</text>
<text x="540.16" y="534.3" font-size="9" font-weight="bold" text-anchor="middle">M</text>
<text x="553.26" y="534.3" font-size="9" font-weight="bold" text-anchor="middle">F</text>
<text x="564.86" y="534.3" font-size="9" font-weight="bold" text-anchor="middle">F</text>
<text x="300" y="521.9" font-size="9" font-weight="bold" text-anchor="end">Dose:</text>
<text x="300" y="534" font-size="9" font-weight="bold" text-anchor="end">Sex:</text>
<text x="81.3" y="548.6" font-size="11.5" font-weight="bold" text-anchor="end">Large intestine</text>
<text x="81.3" y="563.7" font-size="11.5" font-weight="bold" text-anchor="end">Spleen</text>
<text x="81.3" y="579.6" font-size="11.5" font-weight="bold" text-anchor="end">Kidney</text>
<text x="81.3" y="624" font-size="11.5" font-weight="bold" text-anchor="end">Lungs</text>
<text x="81.3" y="683.3" font-size="11.5" font-weight="bold" text-anchor="end">Heart</text>
<text x="81.3" y="728.2" font-size="11.5" font-weight="bold" text-anchor="end">Liver</text>
<text x="81.3" y="785.6" font-size="11.5" font-weight="bold" text-anchor="end">Brain</text>
<text x="305" y="563.5" font-size="11.5" font-weight="normal" text-anchor="end">hemosiderosis</text>
<text x="305" y="579.7" font-size="11.5" font-weight="normal" text-anchor="end">tubular calcification</text>
<text x="305" y="592.1" font-size="11.5" font-weight="normal" text-anchor="end">multifocal granular casts in tubular lumina</text>
<text x="305" y="606.5" font-size="11.5" font-weight="normal" text-anchor="end">tubular epithelial degeneration</text>
<text x="305" y="624.7" font-size="11.5" font-weight="normal" text-anchor="end">suppurative bronchitis with foreign material</text>
<text x="305" y="638.1" font-size="11.5" font-weight="normal" text-anchor="end">interstitial lymphohistiocytic infiltrates</text>
<text x="305" y="654.2" font-size="11.5" font-weight="normal" text-anchor="end">BALT hyperplasia</text>
<text x="305" y="667" font-size="11.5" font-weight="normal" text-anchor="end">alveolar damage/hemorrage</text>
<text x="305" y="683.4" font-size="11.5" font-weight="normal" text-anchor="end">mineralization</text>
<text x="305" y="697.4" font-size="11.5" font-weight="normal" text-anchor="end">degeneration</text>
<text x="305" y="712.5" font-size="11.5" font-weight="normal" text-anchor="end">fibrosis</text>
<text x="305" y="726.9" font-size="11.5" font-weight="normal" text-anchor="end">lymphohistiocytic infiltration</text>
<text x="305" y="741" font-size="11.5" font-weight="normal" text-anchor="end">hepatocellular degeneration</text>
<text x="305" y="755.2" font-size="11.5" font-weight="normal" text-anchor="end">eosinophilic focus</text>
<text x="305" y="768.9" font-size="11.5" font-weight="normal" text-anchor="end">increased mitosis</text>
<text x="305" y="784.7" font-size="11.5" font-weight="normal" text-anchor="end">focal neuronal loss (NeuN)</text>
<text x="305" y="798.8" font-size="11.5" font-weight="normal" text-anchor="end">lymphohistiocytic inflammation</text>
<text x="305" y="813.9" font-size="11.5" font-weight="normal" text-anchor="end">microgliosis (Iba1)</text>
<text x="305" y="828.4" font-size="11.5" font-weight="normal" text-anchor="end">astrogliosis (GFAP)</text>
<text x="305" y="843.5" font-size="11.5" font-weight="normal" text-anchor="end">apoptosis (cleaved caspase-3)</text>
<defs><linearGradient id="vir" x1="0" y1="1" x2="0" y2="0"><stop offset="0" stop-color="#4a1060"/><stop offset="0.1" stop-color="#482475"/><stop offset="0.2" stop-color="#414487"/><stop offset="0.3" stop-color="#355f8d"/><stop offset="0.4" stop-color="#2a788e"/><stop offset="0.5" stop-color="#21908c"/><stop offset="0.6" stop-color="#22a884"/><stop offset="0.7" stop-color="#43bf70"/><stop offset="0.8" stop-color="#7ad151"/><stop offset="0.9" stop-color="#bddf26"/><stop offset="1" stop-color="#fde725"/></linearGradient></defs>
<rect x="580.1" y="773.8" width="12.6" height="74.2" fill="url(#vir)" stroke="#000" stroke-width="1.2"/>
<line x1="580.1" y1="788.64" x2="582.1" y2="788.64" stroke="#000" stroke-width="0.8" stroke-linecap="butt"/>
<line x1="590.7" y1="788.64" x2="592.7" y2="788.64" stroke="#000" stroke-width="0.8" stroke-linecap="butt"/>
<line x1="580.1" y1="803.48" x2="582.1" y2="803.48" stroke="#000" stroke-width="0.8" stroke-linecap="butt"/>
<line x1="590.7" y1="803.48" x2="592.7" y2="803.48" stroke="#000" stroke-width="0.8" stroke-linecap="butt"/>
<line x1="580.1" y1="818.32" x2="582.1" y2="818.32" stroke="#000" stroke-width="0.8" stroke-linecap="butt"/>
<line x1="590.7" y1="818.32" x2="592.7" y2="818.32" stroke="#000" stroke-width="0.8" stroke-linecap="butt"/>
<line x1="580.1" y1="833.16" x2="582.1" y2="833.16" stroke="#000" stroke-width="0.8" stroke-linecap="butt"/>
<line x1="590.7" y1="833.16" x2="592.7" y2="833.16" stroke="#000" stroke-width="0.8" stroke-linecap="butt"/>
<text x="596.6" y="783.5" font-size="11.5" font-weight="normal" text-anchor="start">severe</text>
<text x="596.6" y="799.22" font-size="11.5" font-weight="normal" text-anchor="start">moderate</text>
<text x="596.6" y="814.94" font-size="11.5" font-weight="normal" text-anchor="start">mild to moderate</text>
<text x="596.6" y="830.66" font-size="11.5" font-weight="normal" text-anchor="start">mild</text>
<text x="596.6" y="846.38" font-size="11.5" font-weight="normal" text-anchor="start">no</text>
</svg>
</body></html>
